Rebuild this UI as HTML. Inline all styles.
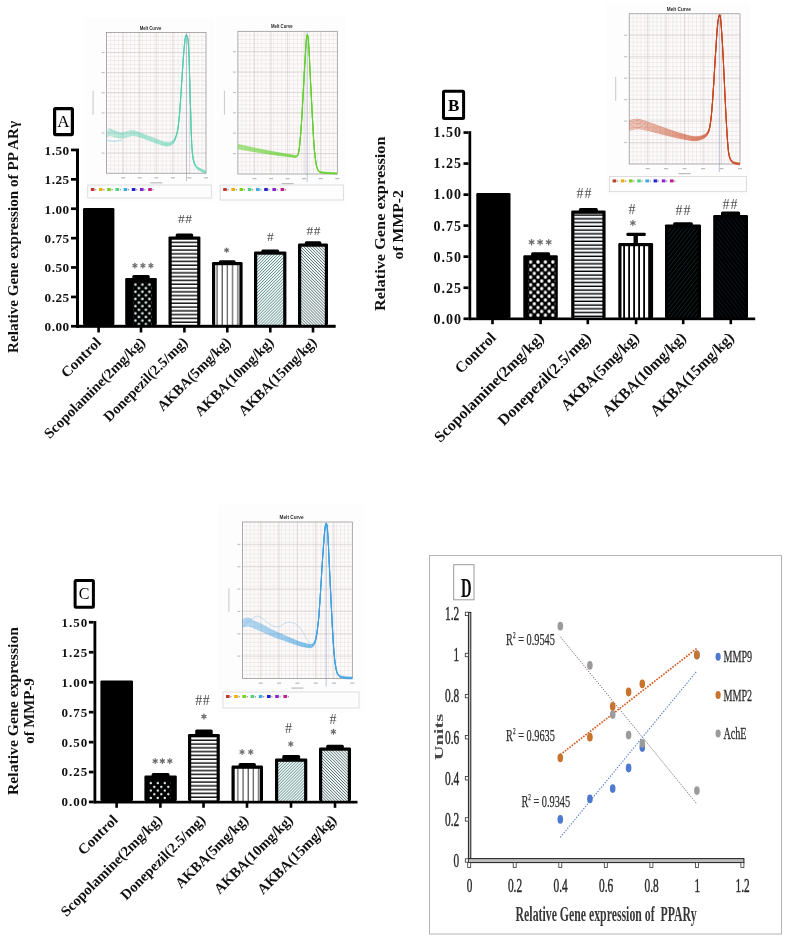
<!DOCTYPE html>
<html><head><meta charset="utf-8"><title>Figure</title>
<style>html,body{margin:0;padding:0;background:#fff;} svg{display:block;will-change:transform;}</style></head>
<body>
<svg width="789" height="939" viewBox="0 0 789 939">
<defs>
<pattern id="dotsA" patternUnits="userSpaceOnUse" width="7" height="7.2" x="133.6" y="282.8">
 <rect width="7" height="7.2" fill="#000"/>
 <circle cx="1.8" cy="1.8" r="1.3" fill="#e4f7f5"/>
 <circle cx="5.3" cy="5.4" r="1.3" fill="#e4f7f5"/>
</pattern>
<pattern id="dotsB" patternUnits="userSpaceOnUse" width="7.4" height="7.6" x="528.75" y="260.1">
 <rect width="7.4" height="7.6" fill="#000"/>
 <rect x="0.35" y="0.3" width="3" height="3.2" rx="1.2" fill="#fff"/>
 <rect x="4.05" y="4.1" width="3" height="3.2" rx="1.2" fill="#fff"/>
</pattern>
<pattern id="dotsC" patternUnits="userSpaceOnUse" width="7" height="7.4" x="149" y="781.3">
 <rect width="7" height="7.4" fill="#000"/>
 <circle cx="1.8" cy="1.9" r="1.2" fill="#e4f7f5"/>
 <circle cx="5.3" cy="5.6" r="1.2" fill="#e4f7f5"/>
</pattern>
<pattern id="hstripe" patternUnits="userSpaceOnUse" width="10" height="3.8">
 <rect width="10" height="3.8" fill="#fff"/>
 <rect y="2.3" width="10" height="1.5" fill="#1a1a1a"/>
</pattern>
<pattern id="hstripeB" patternUnits="userSpaceOnUse" width="10" height="3.75" y="212">
 <rect width="10" height="3.75" fill="#f4f6fa"/>
 <rect y="2.4" width="10" height="1.35" fill="#000"/>
</pattern>
<pattern id="vstripe" patternUnits="userSpaceOnUse" width="5.2" height="10" x="212.5">
 <rect width="5.2" height="10" fill="#fff"/>
 <rect x="4" width="1.0" height="10" fill="#333"/>
</pattern>
<pattern id="vstripeB" patternUnits="userSpaceOnUse" width="5" height="10" x="620">
 <rect width="5" height="10" fill="#fff"/>
 <rect x="3.2" width="1.8" height="10" fill="#000"/>
</pattern>
<pattern id="hatchF" patternUnits="userSpaceOnUse" width="2.1" height="4" patternTransform="rotate(45)">
 <rect width="2.1" height="4" fill="#f6fafa"/>
 <rect width="0.75" height="4" fill="#5e8e8c"/>
</pattern>
<pattern id="hatchB" patternUnits="userSpaceOnUse" width="2.1" height="4" patternTransform="rotate(-45)">
 <rect width="2.1" height="4" fill="#f8f9f9"/>
 <rect width="0.75" height="4" fill="#5a7678"/>
</pattern>
<pattern id="hatchBlk" patternUnits="userSpaceOnUse" width="3.2" height="6" patternTransform="rotate(-38)">
 <rect width="3.2" height="6" fill="#000"/>
 <rect width="0.5" height="6" fill="#0e2236"/>
</pattern>
<pattern id="hatchBlkF" patternUnits="userSpaceOnUse" width="3.2" height="6" patternTransform="rotate(38)">
 <rect width="3.2" height="6" fill="#000"/>
 <rect width="0.5" height="6" fill="#123a40"/>
</pattern>
</defs>
<rect width="789" height="939" fill="#fff"/>
<rect x="84" y="18" width="130" height="184" fill="#fdfdfd"/>
<rect x="216" y="16" width="130" height="188" fill="#fdfdfd"/>
<rect x="106.6" y="32.4" width="99.4" height="140.79999999999998" fill="#fdfbfb"/>
<line x1="110.58" y1="32.4" x2="110.58" y2="173.2" stroke="#e6dfdf" stroke-width="0.5"/>
<line x1="114.55" y1="32.4" x2="114.55" y2="173.2" stroke="#e6dfdf" stroke-width="0.5"/>
<line x1="118.53" y1="32.4" x2="118.53" y2="173.2" stroke="#e6dfdf" stroke-width="0.5"/>
<line x1="122.50" y1="32.4" x2="122.50" y2="173.2" stroke="#e6dfdf" stroke-width="0.5"/>
<line x1="126.48" y1="32.4" x2="126.48" y2="173.2" stroke="#e6dfdf" stroke-width="0.5"/>
<line x1="130.46" y1="32.4" x2="130.46" y2="173.2" stroke="#e6dfdf" stroke-width="0.5"/>
<line x1="134.43" y1="32.4" x2="134.43" y2="173.2" stroke="#e6dfdf" stroke-width="0.5"/>
<line x1="138.41" y1="32.4" x2="138.41" y2="173.2" stroke="#e6dfdf" stroke-width="0.5"/>
<line x1="142.38" y1="32.4" x2="142.38" y2="173.2" stroke="#e6dfdf" stroke-width="0.5"/>
<line x1="146.36" y1="32.4" x2="146.36" y2="173.2" stroke="#e6dfdf" stroke-width="0.5"/>
<line x1="150.34" y1="32.4" x2="150.34" y2="173.2" stroke="#e6dfdf" stroke-width="0.5"/>
<line x1="154.31" y1="32.4" x2="154.31" y2="173.2" stroke="#e6dfdf" stroke-width="0.5"/>
<line x1="158.29" y1="32.4" x2="158.29" y2="173.2" stroke="#e6dfdf" stroke-width="0.5"/>
<line x1="162.26" y1="32.4" x2="162.26" y2="173.2" stroke="#e6dfdf" stroke-width="0.5"/>
<line x1="166.24" y1="32.4" x2="166.24" y2="173.2" stroke="#e6dfdf" stroke-width="0.5"/>
<line x1="170.22" y1="32.4" x2="170.22" y2="173.2" stroke="#e6dfdf" stroke-width="0.5"/>
<line x1="174.19" y1="32.4" x2="174.19" y2="173.2" stroke="#e6dfdf" stroke-width="0.5"/>
<line x1="178.17" y1="32.4" x2="178.17" y2="173.2" stroke="#e6dfdf" stroke-width="0.5"/>
<line x1="182.14" y1="32.4" x2="182.14" y2="173.2" stroke="#e6dfdf" stroke-width="0.5"/>
<line x1="186.12" y1="32.4" x2="186.12" y2="173.2" stroke="#e6dfdf" stroke-width="0.5"/>
<line x1="190.10" y1="32.4" x2="190.10" y2="173.2" stroke="#e6dfdf" stroke-width="0.5"/>
<line x1="194.07" y1="32.4" x2="194.07" y2="173.2" stroke="#e6dfdf" stroke-width="0.5"/>
<line x1="198.05" y1="32.4" x2="198.05" y2="173.2" stroke="#e6dfdf" stroke-width="0.5"/>
<line x1="202.02" y1="32.4" x2="202.02" y2="173.2" stroke="#e6dfdf" stroke-width="0.5"/>
<line x1="106.6" y1="36.42" x2="206" y2="36.42" stroke="#e6dfdf" stroke-width="0.5"/>
<line x1="106.6" y1="40.45" x2="206" y2="40.45" stroke="#e6dfdf" stroke-width="0.5"/>
<line x1="106.6" y1="44.47" x2="206" y2="44.47" stroke="#e6dfdf" stroke-width="0.5"/>
<line x1="106.6" y1="48.49" x2="206" y2="48.49" stroke="#e6dfdf" stroke-width="0.5"/>
<line x1="106.6" y1="52.51" x2="206" y2="52.51" stroke="#e6dfdf" stroke-width="0.5"/>
<line x1="106.6" y1="56.54" x2="206" y2="56.54" stroke="#e6dfdf" stroke-width="0.5"/>
<line x1="106.6" y1="60.56" x2="206" y2="60.56" stroke="#e6dfdf" stroke-width="0.5"/>
<line x1="106.6" y1="64.58" x2="206" y2="64.58" stroke="#e6dfdf" stroke-width="0.5"/>
<line x1="106.6" y1="68.61" x2="206" y2="68.61" stroke="#e6dfdf" stroke-width="0.5"/>
<line x1="106.6" y1="72.63" x2="206" y2="72.63" stroke="#e6dfdf" stroke-width="0.5"/>
<line x1="106.6" y1="76.65" x2="206" y2="76.65" stroke="#e6dfdf" stroke-width="0.5"/>
<line x1="106.6" y1="80.67" x2="206" y2="80.67" stroke="#e6dfdf" stroke-width="0.5"/>
<line x1="106.6" y1="84.70" x2="206" y2="84.70" stroke="#e6dfdf" stroke-width="0.5"/>
<line x1="106.6" y1="88.72" x2="206" y2="88.72" stroke="#e6dfdf" stroke-width="0.5"/>
<line x1="106.6" y1="92.74" x2="206" y2="92.74" stroke="#e6dfdf" stroke-width="0.5"/>
<line x1="106.6" y1="96.77" x2="206" y2="96.77" stroke="#e6dfdf" stroke-width="0.5"/>
<line x1="106.6" y1="100.79" x2="206" y2="100.79" stroke="#e6dfdf" stroke-width="0.5"/>
<line x1="106.6" y1="104.81" x2="206" y2="104.81" stroke="#e6dfdf" stroke-width="0.5"/>
<line x1="106.6" y1="108.83" x2="206" y2="108.83" stroke="#e6dfdf" stroke-width="0.5"/>
<line x1="106.6" y1="112.86" x2="206" y2="112.86" stroke="#e6dfdf" stroke-width="0.5"/>
<line x1="106.6" y1="116.88" x2="206" y2="116.88" stroke="#e6dfdf" stroke-width="0.5"/>
<line x1="106.6" y1="120.90" x2="206" y2="120.90" stroke="#e6dfdf" stroke-width="0.5"/>
<line x1="106.6" y1="124.93" x2="206" y2="124.93" stroke="#e6dfdf" stroke-width="0.5"/>
<line x1="106.6" y1="128.95" x2="206" y2="128.95" stroke="#e6dfdf" stroke-width="0.5"/>
<line x1="106.6" y1="132.97" x2="206" y2="132.97" stroke="#e6dfdf" stroke-width="0.5"/>
<line x1="106.6" y1="136.99" x2="206" y2="136.99" stroke="#e6dfdf" stroke-width="0.5"/>
<line x1="106.6" y1="141.02" x2="206" y2="141.02" stroke="#e6dfdf" stroke-width="0.5"/>
<line x1="106.6" y1="145.04" x2="206" y2="145.04" stroke="#e6dfdf" stroke-width="0.5"/>
<line x1="106.6" y1="149.06" x2="206" y2="149.06" stroke="#e6dfdf" stroke-width="0.5"/>
<line x1="106.6" y1="153.09" x2="206" y2="153.09" stroke="#e6dfdf" stroke-width="0.5"/>
<line x1="106.6" y1="157.11" x2="206" y2="157.11" stroke="#e6dfdf" stroke-width="0.5"/>
<line x1="106.6" y1="161.13" x2="206" y2="161.13" stroke="#e6dfdf" stroke-width="0.5"/>
<line x1="106.6" y1="165.15" x2="206" y2="165.15" stroke="#e6dfdf" stroke-width="0.5"/>
<line x1="106.6" y1="169.18" x2="206" y2="169.18" stroke="#e6dfdf" stroke-width="0.5"/>
<line x1="123.17" y1="32.4" x2="123.17" y2="173.2" stroke="#d2c8c8" stroke-width="0.6"/>
<line x1="139.73" y1="32.4" x2="139.73" y2="173.2" stroke="#d2c8c8" stroke-width="0.6"/>
<line x1="156.30" y1="32.4" x2="156.30" y2="173.2" stroke="#d2c8c8" stroke-width="0.6"/>
<line x1="172.87" y1="32.4" x2="172.87" y2="173.2" stroke="#d2c8c8" stroke-width="0.6"/>
<line x1="189.43" y1="32.4" x2="189.43" y2="173.2" stroke="#d2c8c8" stroke-width="0.6"/>
<line x1="106.6" y1="52.51" x2="206" y2="52.51" stroke="#d2c8c8" stroke-width="0.6"/>
<line x1="106.6" y1="72.63" x2="206" y2="72.63" stroke="#d2c8c8" stroke-width="0.6"/>
<line x1="106.6" y1="92.74" x2="206" y2="92.74" stroke="#d2c8c8" stroke-width="0.6"/>
<line x1="106.6" y1="112.86" x2="206" y2="112.86" stroke="#d2c8c8" stroke-width="0.6"/>
<line x1="106.6" y1="132.97" x2="206" y2="132.97" stroke="#d2c8c8" stroke-width="0.6"/>
<line x1="106.6" y1="153.09" x2="206" y2="153.09" stroke="#d2c8c8" stroke-width="0.6"/>
<line x1="186.5" y1="32.4" x2="186.5" y2="181.2" stroke="#8f9cc0" stroke-width="0.6"/>
<rect x="106.6" y="32.4" width="99.4" height="140.79999999999998" fill="none" stroke="#8a8a8a" stroke-width="0.7"/>
<rect x="121.2" y="177.2" width="4" height="1.2" fill="#bbb"/>
<rect x="137.7" y="177.2" width="4" height="1.2" fill="#bbb"/>
<rect x="154.3" y="177.2" width="4" height="1.2" fill="#bbb"/>
<rect x="170.9" y="177.2" width="4" height="1.2" fill="#bbb"/>
<rect x="187.4" y="177.2" width="4" height="1.2" fill="#bbb"/>
<rect x="204.0" y="177.2" width="4" height="1.2" fill="#bbb"/>
<rect x="101.6" y="51.9" width="3" height="1.2" fill="#c4c4c4"/>
<rect x="101.6" y="72.0" width="3" height="1.2" fill="#c4c4c4"/>
<rect x="101.6" y="92.1" width="3" height="1.2" fill="#c4c4c4"/>
<rect x="101.6" y="112.3" width="3" height="1.2" fill="#c4c4c4"/>
<rect x="101.6" y="132.4" width="3" height="1.2" fill="#c4c4c4"/>
<rect x="101.6" y="152.5" width="3" height="1.2" fill="#c4c4c4"/>
<rect x="150.3" y="182.2" width="12" height="1.2" fill="#bbb"/>
<rect x="92.6" y="90.8" width="1" height="24" fill="#c8c8c8"/>
<text x="150.5" y="29.7" font-family="Liberation Sans" font-weight="bold" font-size="5.8" text-anchor="middle" textLength="21.7" lengthAdjust="spacingAndGlyphs" fill="#2a2a2a">Melt Curve</text>
<path d="M106.6,131.5 L107.0,131.2 L107.4,130.9 L108.0,130.4 L108.6,130.0 L109.3,129.7 L110.0,129.5 L110.7,129.5 L111.5,129.7 L112.3,130.0 L113.1,130.3 L114.0,130.7 L115.0,131.0 L116.1,131.3 L117.2,131.7 L118.4,132.1 L119.7,132.4 L120.9,132.7 L122.0,132.8 L123.1,132.7 L124.1,132.5 L125.1,132.2 L126.1,131.9 L127.1,131.5 L128.0,131.3 L128.9,131.1 L129.7,130.9 L130.4,130.7 L131.2,130.6 L132.1,130.5 L133.0,130.6 L134.0,130.8 L135.1,131.1 L136.3,131.5 L137.5,132.0 L138.8,132.4 L140.0,132.9 L141.3,133.4 L142.6,133.8 L143.9,134.4 L145.3,134.9 L146.7,135.4 L148.0,135.9 L149.3,136.4 L150.7,136.9 L152.1,137.4 L153.4,137.9 L154.7,138.4 L156.0,138.9 L157.2,139.4 L158.5,139.9 L159.7,140.4 L160.9,140.9 L162.0,141.4 L163.0,141.7 L164.0,142.0 L164.9,142.1 L165.7,142.3 L166.5,142.4 L167.2,142.4 L168.0,142.4 L168.7,142.4 L169.4,142.3 L170.1,142.2 L170.8,142.1 L171.4,141.8 L172.0,141.5 L172.6,141.1 L173.1,140.7 L173.6,140.2 L174.0,139.6 L174.5,138.8 L175.0,137.8 L175.5,136.6 L176.0,135.2 L176.6,133.6 L177.1,131.8 L177.6,129.7 L178.0,127.4 L178.4,124.8 L178.7,121.9 L179.1,118.8 L179.4,115.4 L179.7,111.7 L180.0,107.7 L180.3,103.4 L180.6,98.7 L181.0,93.7 L181.3,88.5 L181.6,83.2 L182.0,77.8 L182.4,72.1 L182.8,65.9 L183.2,59.6 L183.7,53.5 L184.1,48.2 L184.5,43.9 L184.9,40.7 L185.2,38.3 L185.5,36.6 L185.9,35.5 L186.2,35.0 L186.5,34.9 L186.8,35.2 L187.2,35.9 L187.5,37.1 L187.9,39.1 L188.2,41.9 L188.5,45.9 L188.8,51.3 L189.0,58.0 L189.3,65.6 L189.5,73.7 L189.8,81.9 L190.0,89.8 L190.2,97.9 L190.5,106.6 L190.8,115.3 L191.0,123.7 L191.2,131.3 L191.5,137.7 L191.7,142.7 L191.9,146.8 L192.2,150.0 L192.4,152.7 L192.7,155.1 L193.0,157.4 L193.4,159.5 L193.9,161.2 L194.3,162.6 L194.9,163.7 L195.4,164.7 L196.0,165.6 L196.6,166.4 L197.2,166.9 L197.8,167.3 L198.5,167.6 L199.2,167.9 L200.0,168.3 L201.0,168.8 L202.1,169.4 L203.2,170.0 L204.4,170.5 L205.3,171.0 L206.0,171.3" fill="none" stroke="#44cca8" stroke-width="0.7" stroke-opacity="0.55" stroke-linejoin="round"/>
<path d="M106.6,132.5 L107.0,132.2 L107.4,131.9 L108.0,131.4 L108.6,131.0 L109.3,130.7 L110.0,130.5 L110.7,130.5 L111.5,130.7 L112.3,131.0 L113.1,131.4 L114.0,131.7 L115.0,132.0 L116.1,132.3 L117.2,132.7 L118.4,133.0 L119.7,133.4 L120.9,133.6 L122.0,133.7 L123.1,133.6 L124.1,133.4 L125.1,133.1 L126.1,132.8 L127.1,132.4 L128.0,132.2 L128.9,132.0 L129.7,131.8 L130.4,131.6 L131.2,131.4 L132.1,131.4 L133.0,131.4 L134.0,131.6 L135.1,131.9 L136.3,132.3 L137.5,132.7 L138.8,133.2 L140.0,133.6 L141.3,134.1 L142.6,134.5 L143.9,135.1 L145.3,135.6 L146.7,136.1 L148.0,136.6 L149.3,137.1 L150.7,137.6 L152.1,138.1 L153.4,138.6 L154.7,139.1 L156.0,139.6 L157.2,140.1 L158.5,140.6 L159.7,141.1 L160.9,141.6 L162.0,142.0 L163.0,142.3 L164.0,142.6 L164.9,142.7 L165.7,142.9 L166.5,143.0 L167.2,143.0 L168.0,143.0 L168.7,143.0 L169.4,142.9 L170.1,142.8 L170.8,142.6 L171.4,142.3 L172.0,142.0 L172.6,141.6 L173.1,141.2 L173.6,140.7 L174.0,140.1 L174.5,139.3 L175.0,138.2 L175.5,136.9 L176.0,135.5 L176.6,133.9 L177.1,132.1 L177.6,130.0 L178.0,127.6 L178.4,124.9 L178.7,122.1 L179.1,118.9 L179.4,115.5 L179.7,111.8 L180.0,107.8 L180.3,103.4 L180.6,98.7 L181.0,93.7 L181.3,88.5 L181.6,83.2 L182.0,77.9 L182.4,72.2 L182.8,66.0 L183.2,59.6 L183.7,53.6 L184.1,48.2 L184.5,43.9 L184.9,40.8 L185.2,38.4 L185.5,36.6 L185.9,35.5 L186.2,35.0 L186.5,35.0 L186.8,35.3 L187.2,35.9 L187.5,37.1 L187.9,39.1 L188.2,42.0 L188.5,45.9 L188.8,51.3 L189.0,58.0 L189.3,65.6 L189.5,73.7 L189.8,82.0 L190.0,89.9 L190.2,98.0 L190.5,106.6 L190.8,115.4 L191.0,123.8 L191.2,131.4 L191.5,137.8 L191.7,142.9 L191.9,146.9 L192.2,150.2 L192.4,152.9 L192.7,155.3 L193.0,157.6 L193.4,159.7 L193.9,161.4 L194.3,162.8 L194.9,164.0 L195.4,165.0 L196.0,165.9 L196.6,166.7 L197.2,167.2 L197.8,167.6 L198.5,168.0 L199.2,168.3 L200.0,168.7 L201.0,169.2 L202.1,169.8 L203.2,170.4 L204.4,170.9 L205.3,171.4 L206.0,171.7" fill="none" stroke="#44cca8" stroke-width="0.7" stroke-opacity="0.55" stroke-linejoin="round"/>
<path d="M106.6,133.5 L107.0,133.2 L107.4,132.9 L108.0,132.4 L108.6,132.0 L109.3,131.7 L110.0,131.5 L110.7,131.5 L111.5,131.7 L112.3,132.0 L113.1,132.4 L114.0,132.7 L115.0,133.0 L116.1,133.3 L117.2,133.6 L118.4,134.0 L119.7,134.3 L120.9,134.5 L122.0,134.6 L123.1,134.5 L124.1,134.3 L125.1,134.0 L126.1,133.7 L127.1,133.4 L128.0,133.1 L128.9,132.9 L129.7,132.6 L130.4,132.4 L131.2,132.3 L132.1,132.2 L133.0,132.2 L134.0,132.4 L135.1,132.6 L136.3,133.0 L137.5,133.4 L138.8,133.9 L140.0,134.3 L141.3,134.7 L142.6,135.2 L143.9,135.7 L145.3,136.3 L146.7,136.8 L148.0,137.3 L149.3,137.8 L150.7,138.3 L152.1,138.8 L153.4,139.3 L154.7,139.8 L156.0,140.3 L157.2,140.8 L158.5,141.3 L159.7,141.7 L160.9,142.2 L162.0,142.6 L163.0,142.9 L164.0,143.1 L164.9,143.3 L165.7,143.5 L166.5,143.6 L167.2,143.6 L168.0,143.6 L168.7,143.6 L169.4,143.5 L170.1,143.3 L170.8,143.1 L171.4,142.9 L172.0,142.5 L172.6,142.1 L173.1,141.7 L173.6,141.2 L174.0,140.5 L174.5,139.7 L175.0,138.6 L175.5,137.3 L176.0,135.8 L176.6,134.2 L177.1,132.3 L177.6,130.2 L178.0,127.8 L178.4,125.1 L178.7,122.2 L179.1,119.0 L179.4,115.6 L179.7,111.9 L180.0,107.9 L180.3,103.5 L180.6,98.8 L181.0,93.8 L181.3,88.6 L181.6,83.3 L182.0,78.0 L182.4,72.2 L182.8,66.0 L183.2,59.6 L183.7,53.6 L184.1,48.2 L184.5,44.0 L184.9,40.8 L185.2,38.4 L185.5,36.7 L185.9,35.6 L186.2,35.0 L186.5,35.0 L186.8,35.3 L187.2,35.9 L187.5,37.2 L187.9,39.1 L188.2,42.0 L188.5,46.0 L188.8,51.3 L189.0,58.0 L189.3,65.7 L189.5,73.8 L189.8,82.0 L190.0,90.0 L190.2,98.0 L190.5,106.7 L190.8,115.4 L191.0,123.8 L191.2,131.5 L191.5,137.9 L191.7,143.0 L191.9,147.0 L192.2,150.3 L192.4,153.1 L192.7,155.5 L193.0,157.8 L193.4,159.9 L193.9,161.7 L194.3,163.1 L194.9,164.2 L195.4,165.3 L196.0,166.2 L196.6,167.0 L197.2,167.6 L197.8,168.0 L198.5,168.3 L199.2,168.7 L200.0,169.1 L201.0,169.6 L202.1,170.2 L203.2,170.8 L204.4,171.3 L205.3,171.8 L206.0,172.1" fill="none" stroke="#44cca8" stroke-width="0.7" stroke-opacity="0.55" stroke-linejoin="round"/>
<path d="M106.6,134.5 L107.0,134.2 L107.4,133.9 L108.0,133.4 L108.6,133.0 L109.3,132.7 L110.0,132.5 L110.7,132.5 L111.5,132.7 L112.3,133.0 L113.1,133.4 L114.0,133.7 L115.0,134.0 L116.1,134.3 L117.2,134.6 L118.4,134.9 L119.7,135.2 L120.9,135.4 L122.0,135.5 L123.1,135.4 L124.1,135.2 L125.1,134.9 L126.1,134.6 L127.1,134.3 L128.0,134.0 L128.9,133.8 L129.7,133.5 L130.4,133.3 L131.2,133.1 L132.1,133.0 L133.0,133.0 L134.0,133.1 L135.1,133.4 L136.3,133.8 L137.5,134.1 L138.8,134.6 L140.0,135.0 L141.3,135.4 L142.6,135.9 L143.9,136.4 L145.3,137.0 L146.7,137.5 L148.0,138.0 L149.3,138.5 L150.7,139.0 L152.1,139.5 L153.4,140.0 L154.7,140.5 L156.0,141.0 L157.2,141.5 L158.5,141.9 L159.7,142.4 L160.9,142.8 L162.0,143.2 L163.0,143.5 L164.0,143.7 L164.9,143.9 L165.7,144.1 L166.5,144.2 L167.2,144.2 L168.0,144.2 L168.7,144.1 L169.4,144.0 L170.1,143.9 L170.8,143.7 L171.4,143.4 L172.0,143.0 L172.6,142.6 L173.1,142.1 L173.6,141.6 L174.0,141.0 L174.5,140.1 L175.0,139.0 L175.5,137.7 L176.0,136.2 L176.6,134.5 L177.1,132.6 L177.6,130.4 L178.0,128.0 L178.4,125.3 L178.7,122.4 L179.1,119.2 L179.4,115.7 L179.7,112.0 L180.0,108.0 L180.3,103.6 L180.6,98.9 L181.0,93.9 L181.3,88.7 L181.6,83.3 L182.0,78.0 L182.4,72.3 L182.8,66.0 L183.2,59.7 L183.7,53.6 L184.1,48.3 L184.5,44.0 L184.9,40.8 L185.2,38.4 L185.5,36.7 L185.9,35.6 L186.2,35.1 L186.5,35.0 L186.8,35.3 L187.2,36.0 L187.5,37.2 L187.9,39.1 L188.2,42.0 L188.5,46.0 L188.8,51.4 L189.0,58.1 L189.3,65.7 L189.5,73.8 L189.8,82.1 L190.0,90.0 L190.2,98.1 L190.5,106.7 L190.8,115.5 L191.0,123.9 L191.2,131.6 L191.5,138.0 L191.7,143.1 L191.9,147.2 L192.2,150.5 L192.4,153.2 L192.7,155.7 L193.0,158.0 L193.4,160.1 L193.9,161.9 L194.3,163.3 L194.9,164.5 L195.4,165.5 L196.0,166.5 L196.6,167.3 L197.2,167.9 L197.8,168.3 L198.5,168.7 L199.2,169.1 L200.0,169.5 L201.0,170.0 L202.1,170.6 L203.2,171.2 L204.4,171.7 L205.3,172.2 L206.0,172.5" fill="none" stroke="#44cca8" stroke-width="0.7" stroke-opacity="0.55" stroke-linejoin="round"/>
<path d="M106.6,135.5 L107.0,135.2 L107.4,134.9 L108.0,134.4 L108.6,134.0 L109.3,133.7 L110.0,133.5 L110.7,133.5 L111.5,133.7 L112.3,134.0 L113.1,134.4 L114.0,134.7 L115.0,135.0 L116.1,135.3 L117.2,135.6 L118.4,135.9 L119.7,136.2 L120.9,136.3 L122.0,136.4 L123.1,136.3 L124.1,136.1 L125.1,135.8 L126.1,135.5 L127.1,135.2 L128.0,134.9 L128.9,134.7 L129.7,134.4 L130.4,134.1 L131.2,133.9 L132.1,133.8 L133.0,133.8 L134.0,133.9 L135.1,134.2 L136.3,134.5 L137.5,134.9 L138.8,135.3 L140.0,135.7 L141.3,136.1 L142.6,136.6 L143.9,137.1 L145.3,137.7 L146.7,138.2 L148.0,138.7 L149.3,139.2 L150.7,139.7 L152.1,140.2 L153.4,140.7 L154.7,141.2 L156.0,141.7 L157.2,142.2 L158.5,142.6 L159.7,143.0 L160.9,143.4 L162.0,143.8 L163.0,144.1 L164.0,144.3 L164.9,144.5 L165.7,144.7 L166.5,144.8 L167.2,144.8 L168.0,144.8 L168.7,144.7 L169.4,144.6 L170.1,144.4 L170.8,144.2 L171.4,143.9 L172.0,143.5 L172.6,143.1 L173.1,142.6 L173.6,142.1 L174.0,141.4 L174.5,140.5 L175.0,139.4 L175.5,138.0 L176.0,136.5 L176.6,134.8 L177.1,132.9 L177.6,130.7 L178.0,128.2 L178.4,125.5 L178.7,122.5 L179.1,119.3 L179.4,115.9 L179.7,112.1 L180.0,108.1 L180.3,103.7 L180.6,99.0 L181.0,93.9 L181.3,88.7 L181.6,83.4 L182.0,78.0 L182.4,72.3 L182.8,66.1 L183.2,59.7 L183.7,53.7 L184.1,48.3 L184.5,44.0 L184.9,40.8 L185.2,38.4 L185.5,36.7 L185.9,35.6 L186.2,35.1 L186.5,35.0 L186.8,35.3 L187.2,36.0 L187.5,37.2 L187.9,39.2 L188.2,42.1 L188.5,46.0 L188.8,51.4 L189.0,58.1 L189.3,65.7 L189.5,73.9 L189.8,82.1 L190.0,90.0 L190.2,98.1 L190.5,106.8 L190.8,115.6 L191.0,124.0 L191.2,131.7 L191.5,138.1 L191.7,143.2 L191.9,147.3 L192.2,150.6 L192.4,153.4 L192.7,155.8 L193.0,158.2 L193.4,160.4 L193.9,162.1 L194.3,163.6 L194.9,164.8 L195.4,165.8 L196.0,166.8 L196.6,167.6 L197.2,168.2 L197.8,168.7 L198.5,169.1 L199.2,169.5 L200.0,169.9 L201.0,170.4 L202.1,171.0 L203.2,171.6 L204.4,172.1 L205.3,172.6 L206.0,172.9" fill="none" stroke="#44cca8" stroke-width="0.7" stroke-opacity="0.55" stroke-linejoin="round"/>
<path d="M106.6,136.5 L107.0,136.2 L107.4,135.9 L108.0,135.4 L108.6,135.0 L109.3,134.7 L110.0,134.5 L110.7,134.5 L111.5,134.7 L112.3,135.0 L113.1,135.4 L114.0,135.7 L115.0,136.0 L116.1,136.3 L117.2,136.6 L118.4,136.8 L119.7,137.1 L120.9,137.2 L122.0,137.3 L123.1,137.2 L124.1,137.0 L125.1,136.7 L126.1,136.4 L127.1,136.1 L128.0,135.8 L128.9,135.5 L129.7,135.3 L130.4,135.0 L131.2,134.8 L132.1,134.6 L133.0,134.6 L134.0,134.7 L135.1,134.9 L136.3,135.2 L137.5,135.6 L138.8,136.0 L140.0,136.4 L141.3,136.8 L142.6,137.3 L143.9,137.8 L145.3,138.4 L146.7,138.9 L148.0,139.4 L149.3,139.9 L150.7,140.4 L152.1,140.9 L153.4,141.5 L154.7,141.9 L156.0,142.4 L157.2,142.8 L158.5,143.3 L159.7,143.7 L160.9,144.1 L162.0,144.4 L163.0,144.7 L164.0,144.9 L164.9,145.1 L165.7,145.3 L166.5,145.4 L167.2,145.4 L168.0,145.4 L168.7,145.3 L169.4,145.2 L170.1,145.0 L170.8,144.8 L171.4,144.4 L172.0,144.0 L172.6,143.5 L173.1,143.1 L173.6,142.5 L174.0,141.8 L174.5,140.9 L175.0,139.8 L175.5,138.4 L176.0,136.9 L176.6,135.1 L177.1,133.1 L177.6,130.9 L178.0,128.4 L178.4,125.7 L178.7,122.7 L179.1,119.5 L179.4,116.0 L179.7,112.2 L180.0,108.2 L180.3,103.8 L180.6,99.0 L181.0,94.0 L181.3,88.8 L181.6,83.5 L182.0,78.1 L182.4,72.4 L182.8,66.1 L183.2,59.8 L183.7,53.7 L184.1,48.3 L184.5,44.1 L184.9,40.9 L185.2,38.5 L185.5,36.7 L185.9,35.6 L186.2,35.1 L186.5,35.0 L186.8,35.3 L187.2,36.0 L187.5,37.2 L187.9,39.2 L188.2,42.1 L188.5,46.1 L188.8,51.4 L189.0,58.1 L189.3,65.8 L189.5,73.9 L189.8,82.1 L190.0,90.1 L190.2,98.2 L190.5,106.9 L190.8,115.6 L191.0,124.1 L191.2,131.8 L191.5,138.2 L191.7,143.3 L191.9,147.4 L192.2,150.8 L192.4,153.6 L192.7,156.0 L193.0,158.4 L193.4,160.6 L193.9,162.4 L194.3,163.8 L194.9,165.0 L195.4,166.1 L196.0,167.1 L196.6,168.0 L197.2,168.6 L197.8,169.1 L198.5,169.5 L199.2,169.8 L200.0,170.3 L201.0,170.8 L202.1,171.4 L203.2,172.0 L204.4,172.5 L205.3,173.0 L206.0,173.3" fill="none" stroke="#44cca8" stroke-width="0.7" stroke-opacity="0.55" stroke-linejoin="round"/>
<path d="M106.6,137.5 L107.0,137.2 L107.4,136.9 L108.0,136.4 L108.6,136.0 L109.3,135.7 L110.0,135.5 L110.7,135.6 L111.5,135.8 L112.3,136.1 L113.1,136.4 L114.0,136.7 L115.0,137.0 L116.1,137.2 L117.2,137.5 L118.4,137.8 L119.7,138.0 L120.9,138.2 L122.0,138.2 L123.1,138.1 L124.1,137.9 L125.1,137.6 L126.1,137.3 L127.1,137.0 L128.0,136.7 L128.9,136.4 L129.7,136.1 L130.4,135.8 L131.2,135.6 L132.1,135.4 L133.0,135.4 L134.0,135.5 L135.1,135.7 L136.3,136.0 L137.5,136.3 L138.8,136.7 L140.0,137.1 L141.3,137.5 L142.6,138.0 L143.9,138.5 L145.3,139.1 L146.7,139.6 L148.0,140.1 L149.3,140.6 L150.7,141.1 L152.1,141.7 L153.4,142.2 L154.7,142.6 L156.0,143.1 L157.2,143.5 L158.5,143.9 L159.7,144.3 L160.9,144.7 L162.0,145.0 L163.0,145.3 L164.0,145.5 L164.9,145.7 L165.7,145.9 L166.5,146.0 L167.2,146.0 L168.0,146.0 L168.7,145.9 L169.4,145.8 L170.1,145.6 L170.8,145.3 L171.4,144.9 L172.0,144.5 L172.6,144.0 L173.1,143.5 L173.6,143.0 L174.0,142.3 L174.5,141.4 L175.0,140.2 L175.5,138.8 L176.0,137.2 L176.6,135.4 L177.1,133.4 L177.6,131.1 L178.0,128.6 L178.4,125.8 L178.7,122.8 L179.1,119.6 L179.4,116.1 L179.7,112.4 L180.0,108.3 L180.3,103.9 L180.6,99.1 L181.0,94.1 L181.3,88.9 L181.6,83.5 L182.0,78.2 L182.4,72.4 L182.8,66.2 L183.2,59.8 L183.7,53.7 L184.1,48.4 L184.5,44.1 L184.9,40.9 L185.2,38.5 L185.5,36.8 L185.9,35.7 L186.2,35.1 L186.5,35.1 L186.8,35.4 L187.2,36.0 L187.5,37.3 L187.9,39.2 L188.2,42.1 L188.5,46.1 L188.8,51.5 L189.0,58.2 L189.3,65.8 L189.5,73.9 L189.8,82.2 L190.0,90.2 L190.2,98.3 L190.5,106.9 L190.8,115.7 L191.0,124.2 L191.2,131.8 L191.5,138.3 L191.7,143.4 L191.9,147.6 L192.2,150.9 L192.4,153.7 L192.7,156.2 L193.0,158.6 L193.4,160.8 L193.9,162.6 L194.3,164.1 L194.9,165.3 L195.4,166.4 L196.0,167.4 L196.6,168.3 L197.2,168.9 L197.8,169.4 L198.5,169.8 L199.2,170.2 L200.0,170.7 L201.0,171.3 L202.1,171.8 L203.2,172.4 L204.4,172.9 L205.3,173.4 L206.0,173.7" fill="none" stroke="#44cca8" stroke-width="0.7" stroke-opacity="0.55" stroke-linejoin="round"/>
<path d="M107,140 C112,142 118,141 122,140" stroke="#7ac8e0" stroke-width="0.6" fill="none"/><path d="M108,128 C113,131 118,135 124,134" stroke="#7ad0d0" stroke-width="0.5" fill="none"/>
<rect x="87.8" y="185" width="123.50000000000001" height="13" fill="#fdfdfd" stroke="#cfcfcf" stroke-width="0.7"/>
<rect x="90.8" y="188" width="3.6" height="3" fill="#c0392b"/>
<rect x="95.1" y="189" width="1.2" height="1.4" fill="#999"/>
<rect x="99.0" y="188" width="3.6" height="3" fill="#e8b010"/>
<rect x="103.3" y="189" width="1.2" height="1.4" fill="#999"/>
<rect x="107.2" y="188" width="3.6" height="3" fill="#7bd020"/>
<rect x="111.5" y="189" width="1.2" height="1.4" fill="#999"/>
<rect x="115.4" y="188" width="3.6" height="3" fill="#50d080"/>
<rect x="119.7" y="189" width="1.2" height="1.4" fill="#999"/>
<rect x="123.6" y="188" width="3.6" height="3" fill="#40a8e0"/>
<rect x="127.9" y="189" width="1.2" height="1.4" fill="#999"/>
<rect x="131.8" y="188" width="3.6" height="3" fill="#2020d0"/>
<rect x="136.1" y="189" width="1.2" height="1.4" fill="#999"/>
<rect x="140.0" y="188" width="3.6" height="3" fill="#9020d0"/>
<rect x="144.3" y="189" width="1.2" height="1.4" fill="#999"/>
<rect x="148.2" y="188" width="3.6" height="3" fill="#c02090"/>
<rect x="152.5" y="189" width="1.2" height="1.4" fill="#999"/>
<rect x="237.9" y="31.3" width="99.4" height="142.7" fill="#fdfbfb"/>
<line x1="241.88" y1="31.3" x2="241.88" y2="174" stroke="#e6dfdf" stroke-width="0.5"/>
<line x1="245.85" y1="31.3" x2="245.85" y2="174" stroke="#e6dfdf" stroke-width="0.5"/>
<line x1="249.83" y1="31.3" x2="249.83" y2="174" stroke="#e6dfdf" stroke-width="0.5"/>
<line x1="253.80" y1="31.3" x2="253.80" y2="174" stroke="#e6dfdf" stroke-width="0.5"/>
<line x1="257.78" y1="31.3" x2="257.78" y2="174" stroke="#e6dfdf" stroke-width="0.5"/>
<line x1="261.76" y1="31.3" x2="261.76" y2="174" stroke="#e6dfdf" stroke-width="0.5"/>
<line x1="265.73" y1="31.3" x2="265.73" y2="174" stroke="#e6dfdf" stroke-width="0.5"/>
<line x1="269.71" y1="31.3" x2="269.71" y2="174" stroke="#e6dfdf" stroke-width="0.5"/>
<line x1="273.68" y1="31.3" x2="273.68" y2="174" stroke="#e6dfdf" stroke-width="0.5"/>
<line x1="277.66" y1="31.3" x2="277.66" y2="174" stroke="#e6dfdf" stroke-width="0.5"/>
<line x1="281.64" y1="31.3" x2="281.64" y2="174" stroke="#e6dfdf" stroke-width="0.5"/>
<line x1="285.61" y1="31.3" x2="285.61" y2="174" stroke="#e6dfdf" stroke-width="0.5"/>
<line x1="289.59" y1="31.3" x2="289.59" y2="174" stroke="#e6dfdf" stroke-width="0.5"/>
<line x1="293.56" y1="31.3" x2="293.56" y2="174" stroke="#e6dfdf" stroke-width="0.5"/>
<line x1="297.54" y1="31.3" x2="297.54" y2="174" stroke="#e6dfdf" stroke-width="0.5"/>
<line x1="301.52" y1="31.3" x2="301.52" y2="174" stroke="#e6dfdf" stroke-width="0.5"/>
<line x1="305.49" y1="31.3" x2="305.49" y2="174" stroke="#e6dfdf" stroke-width="0.5"/>
<line x1="309.47" y1="31.3" x2="309.47" y2="174" stroke="#e6dfdf" stroke-width="0.5"/>
<line x1="313.44" y1="31.3" x2="313.44" y2="174" stroke="#e6dfdf" stroke-width="0.5"/>
<line x1="317.42" y1="31.3" x2="317.42" y2="174" stroke="#e6dfdf" stroke-width="0.5"/>
<line x1="321.40" y1="31.3" x2="321.40" y2="174" stroke="#e6dfdf" stroke-width="0.5"/>
<line x1="325.37" y1="31.3" x2="325.37" y2="174" stroke="#e6dfdf" stroke-width="0.5"/>
<line x1="329.35" y1="31.3" x2="329.35" y2="174" stroke="#e6dfdf" stroke-width="0.5"/>
<line x1="333.32" y1="31.3" x2="333.32" y2="174" stroke="#e6dfdf" stroke-width="0.5"/>
<line x1="237.9" y1="35.38" x2="337.3" y2="35.38" stroke="#e6dfdf" stroke-width="0.5"/>
<line x1="237.9" y1="39.45" x2="337.3" y2="39.45" stroke="#e6dfdf" stroke-width="0.5"/>
<line x1="237.9" y1="43.53" x2="337.3" y2="43.53" stroke="#e6dfdf" stroke-width="0.5"/>
<line x1="237.9" y1="47.61" x2="337.3" y2="47.61" stroke="#e6dfdf" stroke-width="0.5"/>
<line x1="237.9" y1="51.69" x2="337.3" y2="51.69" stroke="#e6dfdf" stroke-width="0.5"/>
<line x1="237.9" y1="55.76" x2="337.3" y2="55.76" stroke="#e6dfdf" stroke-width="0.5"/>
<line x1="237.9" y1="59.84" x2="337.3" y2="59.84" stroke="#e6dfdf" stroke-width="0.5"/>
<line x1="237.9" y1="63.92" x2="337.3" y2="63.92" stroke="#e6dfdf" stroke-width="0.5"/>
<line x1="237.9" y1="67.99" x2="337.3" y2="67.99" stroke="#e6dfdf" stroke-width="0.5"/>
<line x1="237.9" y1="72.07" x2="337.3" y2="72.07" stroke="#e6dfdf" stroke-width="0.5"/>
<line x1="237.9" y1="76.15" x2="337.3" y2="76.15" stroke="#e6dfdf" stroke-width="0.5"/>
<line x1="237.9" y1="80.23" x2="337.3" y2="80.23" stroke="#e6dfdf" stroke-width="0.5"/>
<line x1="237.9" y1="84.30" x2="337.3" y2="84.30" stroke="#e6dfdf" stroke-width="0.5"/>
<line x1="237.9" y1="88.38" x2="337.3" y2="88.38" stroke="#e6dfdf" stroke-width="0.5"/>
<line x1="237.9" y1="92.46" x2="337.3" y2="92.46" stroke="#e6dfdf" stroke-width="0.5"/>
<line x1="237.9" y1="96.53" x2="337.3" y2="96.53" stroke="#e6dfdf" stroke-width="0.5"/>
<line x1="237.9" y1="100.61" x2="337.3" y2="100.61" stroke="#e6dfdf" stroke-width="0.5"/>
<line x1="237.9" y1="104.69" x2="337.3" y2="104.69" stroke="#e6dfdf" stroke-width="0.5"/>
<line x1="237.9" y1="108.77" x2="337.3" y2="108.77" stroke="#e6dfdf" stroke-width="0.5"/>
<line x1="237.9" y1="112.84" x2="337.3" y2="112.84" stroke="#e6dfdf" stroke-width="0.5"/>
<line x1="237.9" y1="116.92" x2="337.3" y2="116.92" stroke="#e6dfdf" stroke-width="0.5"/>
<line x1="237.9" y1="121.00" x2="337.3" y2="121.00" stroke="#e6dfdf" stroke-width="0.5"/>
<line x1="237.9" y1="125.07" x2="337.3" y2="125.07" stroke="#e6dfdf" stroke-width="0.5"/>
<line x1="237.9" y1="129.15" x2="337.3" y2="129.15" stroke="#e6dfdf" stroke-width="0.5"/>
<line x1="237.9" y1="133.23" x2="337.3" y2="133.23" stroke="#e6dfdf" stroke-width="0.5"/>
<line x1="237.9" y1="137.31" x2="337.3" y2="137.31" stroke="#e6dfdf" stroke-width="0.5"/>
<line x1="237.9" y1="141.38" x2="337.3" y2="141.38" stroke="#e6dfdf" stroke-width="0.5"/>
<line x1="237.9" y1="145.46" x2="337.3" y2="145.46" stroke="#e6dfdf" stroke-width="0.5"/>
<line x1="237.9" y1="149.54" x2="337.3" y2="149.54" stroke="#e6dfdf" stroke-width="0.5"/>
<line x1="237.9" y1="153.61" x2="337.3" y2="153.61" stroke="#e6dfdf" stroke-width="0.5"/>
<line x1="237.9" y1="157.69" x2="337.3" y2="157.69" stroke="#e6dfdf" stroke-width="0.5"/>
<line x1="237.9" y1="161.77" x2="337.3" y2="161.77" stroke="#e6dfdf" stroke-width="0.5"/>
<line x1="237.9" y1="165.85" x2="337.3" y2="165.85" stroke="#e6dfdf" stroke-width="0.5"/>
<line x1="237.9" y1="169.92" x2="337.3" y2="169.92" stroke="#e6dfdf" stroke-width="0.5"/>
<line x1="254.47" y1="31.3" x2="254.47" y2="174" stroke="#d2c8c8" stroke-width="0.6"/>
<line x1="271.03" y1="31.3" x2="271.03" y2="174" stroke="#d2c8c8" stroke-width="0.6"/>
<line x1="287.60" y1="31.3" x2="287.60" y2="174" stroke="#d2c8c8" stroke-width="0.6"/>
<line x1="304.17" y1="31.3" x2="304.17" y2="174" stroke="#d2c8c8" stroke-width="0.6"/>
<line x1="320.73" y1="31.3" x2="320.73" y2="174" stroke="#d2c8c8" stroke-width="0.6"/>
<line x1="237.9" y1="51.69" x2="337.3" y2="51.69" stroke="#d2c8c8" stroke-width="0.6"/>
<line x1="237.9" y1="72.07" x2="337.3" y2="72.07" stroke="#d2c8c8" stroke-width="0.6"/>
<line x1="237.9" y1="92.46" x2="337.3" y2="92.46" stroke="#d2c8c8" stroke-width="0.6"/>
<line x1="237.9" y1="112.84" x2="337.3" y2="112.84" stroke="#d2c8c8" stroke-width="0.6"/>
<line x1="237.9" y1="133.23" x2="337.3" y2="133.23" stroke="#d2c8c8" stroke-width="0.6"/>
<line x1="237.9" y1="153.61" x2="337.3" y2="153.61" stroke="#d2c8c8" stroke-width="0.6"/>
<line x1="307.2" y1="31.3" x2="307.2" y2="182" stroke="#8f9cc0" stroke-width="0.6"/>
<rect x="237.9" y="31.3" width="99.4" height="142.7" fill="none" stroke="#8a8a8a" stroke-width="0.7"/>
<rect x="252.5" y="178" width="4" height="1.2" fill="#bbb"/>
<rect x="269.0" y="178" width="4" height="1.2" fill="#bbb"/>
<rect x="285.6" y="178" width="4" height="1.2" fill="#bbb"/>
<rect x="302.2" y="178" width="4" height="1.2" fill="#bbb"/>
<rect x="318.7" y="178" width="4" height="1.2" fill="#bbb"/>
<rect x="335.3" y="178" width="4" height="1.2" fill="#bbb"/>
<rect x="232.9" y="51.1" width="3" height="1.2" fill="#c4c4c4"/>
<rect x="232.9" y="71.5" width="3" height="1.2" fill="#c4c4c4"/>
<rect x="232.9" y="91.9" width="3" height="1.2" fill="#c4c4c4"/>
<rect x="232.9" y="112.2" width="3" height="1.2" fill="#c4c4c4"/>
<rect x="232.9" y="132.6" width="3" height="1.2" fill="#c4c4c4"/>
<rect x="232.9" y="153.0" width="3" height="1.2" fill="#c4c4c4"/>
<rect x="281.6" y="183" width="12" height="1.2" fill="#bbb"/>
<rect x="223.9" y="90.7" width="1" height="24" fill="#c8c8c8"/>
<text x="281.8" y="28" font-family="Liberation Sans" font-weight="bold" font-size="5.8" text-anchor="middle" textLength="21.7" lengthAdjust="spacingAndGlyphs" fill="#2a2a2a">Melt Curve</text>
<path d="M238.0,144.4 L238.7,144.6 L239.7,144.8 L240.9,145.0 L242.2,145.3 L243.6,145.6 L245.0,145.9 L246.5,146.2 L248.1,146.6 L249.8,147.0 L251.6,147.4 L253.3,147.7 L255.0,148.1 L256.7,148.5 L258.3,148.8 L260.0,149.1 L261.7,149.5 L263.3,149.8 L265.0,150.1 L266.7,150.4 L268.3,150.8 L270.0,151.1 L271.7,151.4 L273.3,151.7 L275.0,152.0 L276.7,152.3 L278.4,152.6 L280.2,152.9 L281.9,153.2 L283.5,153.5 L285.0,153.7 L286.4,154.0 L287.7,154.2 L288.9,154.4 L290.0,154.6 L291.0,154.8 L292.0,154.9 L292.9,155.1 L293.7,155.4 L294.4,155.6 L295.1,155.7 L295.7,155.7 L296.3,155.6 L296.8,155.3 L297.2,155.0 L297.6,154.6 L298.0,154.0 L298.3,153.1 L298.6,151.9 L298.9,150.2 L299.2,148.2 L299.5,146.0 L299.8,143.4 L300.0,140.7 L300.3,137.7 L300.6,134.5 L300.9,131.2 L301.1,127.7 L301.4,123.8 L301.7,119.6 L302.0,114.8 L302.3,109.4 L302.6,103.4 L303.0,97.0 L303.3,90.4 L303.7,84.0 L304.0,77.9 L304.3,71.9 L304.7,65.8 L305.1,59.7 L305.4,54.1 L305.7,49.1 L306.0,44.9 L306.2,41.7 L306.4,39.2 L306.6,37.3 L306.7,36.0 L306.9,35.2 L307.1,34.8 L307.3,34.7 L307.5,35.1 L307.8,36.0 L308.0,37.4 L308.3,39.3 L308.5,41.9 L308.7,45.3 L309.0,49.3 L309.2,53.9 L309.5,58.9 L309.7,64.3 L310.0,69.9 L310.3,75.9 L310.6,82.5 L311.0,89.4 L311.3,96.4 L311.7,103.3 L312.0,109.8 L312.3,116.1 L312.7,122.5 L313.0,128.7 L313.3,134.6 L313.7,140.0 L314.0,144.8 L314.3,148.9 L314.7,152.4 L315.0,155.4 L315.3,158.1 L315.7,160.5 L316.0,162.6 L316.3,164.4 L316.6,165.8 L316.9,166.9 L317.2,167.8 L317.6,168.6 L318.0,169.4 L318.4,170.1 L318.8,170.6 L319.2,171.0 L319.8,171.3 L320.7,171.6 L322.0,171.9 L324.0,172.1 L326.7,172.4 L329.8,172.5 L332.7,172.7 L335.2,172.8 L337.0,172.9" fill="none" stroke="#5ed02a" stroke-width="0.75" stroke-opacity="0.65" stroke-linejoin="round"/>
<path d="M238.0,145.1 L238.7,145.3 L239.7,145.5 L240.9,145.7 L242.2,146.0 L243.6,146.3 L245.0,146.6 L246.5,146.9 L248.1,147.3 L249.8,147.6 L251.6,148.0 L253.3,148.4 L255.0,148.7 L256.7,149.1 L258.3,149.4 L260.0,149.7 L261.7,150.0 L263.3,150.4 L265.0,150.7 L266.7,151.0 L268.3,151.3 L270.0,151.6 L271.7,151.9 L273.3,152.2 L275.0,152.5 L276.7,152.8 L278.4,153.1 L280.2,153.4 L281.9,153.7 L283.5,153.9 L285.0,154.2 L286.4,154.4 L287.7,154.6 L288.9,154.8 L290.0,155.0 L291.0,155.2 L292.0,155.3 L292.9,155.5 L293.7,155.7 L294.4,155.9 L295.1,156.0 L295.7,156.0 L296.3,155.8 L296.8,155.6 L297.2,155.3 L297.6,154.9 L298.0,154.3 L298.3,153.4 L298.6,152.1 L298.9,150.4 L299.2,148.4 L299.5,146.1 L299.8,143.6 L300.0,140.8 L300.3,137.8 L300.6,134.6 L300.9,131.3 L301.1,127.8 L301.4,123.9 L301.7,119.6 L302.0,114.9 L302.3,109.5 L302.6,103.5 L303.0,97.0 L303.3,90.5 L303.7,84.0 L304.0,77.9 L304.3,71.9 L304.7,65.8 L305.1,59.8 L305.4,54.1 L305.7,49.1 L306.0,45.0 L306.2,41.7 L306.4,39.2 L306.6,37.4 L306.7,36.0 L306.9,35.2 L307.1,34.8 L307.3,34.7 L307.5,35.1 L307.8,36.0 L308.0,37.4 L308.3,39.4 L308.5,42.0 L308.7,45.3 L309.0,49.3 L309.2,53.9 L309.5,58.9 L309.7,64.3 L310.0,69.9 L310.3,76.0 L310.6,82.5 L311.0,89.5 L311.3,96.5 L311.7,103.4 L312.0,109.9 L312.3,116.2 L312.7,122.5 L313.0,128.8 L313.3,134.7 L313.7,140.1 L314.0,144.9 L314.3,149.0 L314.7,152.5 L315.0,155.5 L315.3,158.2 L315.7,160.6 L316.0,162.7 L316.3,164.6 L316.6,166.0 L316.9,167.1 L317.2,168.0 L317.6,168.8 L318.0,169.6 L318.4,170.3 L318.8,170.8 L319.2,171.2 L319.8,171.5 L320.7,171.8 L322.0,172.1 L324.0,172.3 L326.7,172.6 L329.8,172.7 L332.7,172.9 L335.2,173.0 L337.0,173.1" fill="none" stroke="#5ed02a" stroke-width="0.75" stroke-opacity="0.65" stroke-linejoin="round"/>
<path d="M238.0,145.8 L238.7,146.0 L239.7,146.2 L240.9,146.4 L242.2,146.7 L243.6,147.0 L245.0,147.3 L246.5,147.6 L248.1,148.0 L249.8,148.3 L251.6,148.7 L253.3,149.0 L255.0,149.4 L256.7,149.7 L258.3,150.0 L260.0,150.3 L261.7,150.6 L263.3,150.9 L265.0,151.2 L266.7,151.5 L268.3,151.8 L270.0,152.1 L271.7,152.4 L273.3,152.7 L275.0,153.0 L276.7,153.3 L278.4,153.6 L280.2,153.8 L281.9,154.1 L283.5,154.3 L285.0,154.6 L286.4,154.8 L287.7,155.0 L288.9,155.2 L290.0,155.4 L291.0,155.5 L292.0,155.7 L292.9,155.8 L293.7,156.0 L294.4,156.2 L295.1,156.3 L295.7,156.3 L296.3,156.1 L296.8,155.9 L297.2,155.6 L297.6,155.1 L298.0,154.5 L298.3,153.6 L298.6,152.3 L298.9,150.6 L299.2,148.6 L299.5,146.3 L299.8,143.7 L300.0,140.9 L300.3,137.9 L300.6,134.7 L300.9,131.4 L301.1,127.8 L301.4,124.0 L301.7,119.7 L302.0,114.9 L302.3,109.5 L302.6,103.5 L303.0,97.1 L303.3,90.5 L303.7,84.1 L304.0,78.0 L304.3,72.0 L304.7,65.8 L305.1,59.8 L305.4,54.1 L305.7,49.1 L306.0,45.0 L306.2,41.8 L306.4,39.2 L306.6,37.4 L306.7,36.1 L306.9,35.2 L307.1,34.8 L307.3,34.7 L307.5,35.1 L307.8,36.0 L308.0,37.4 L308.3,39.4 L308.5,42.0 L308.7,45.3 L309.0,49.3 L309.2,53.9 L309.5,59.0 L309.7,64.4 L310.0,70.0 L310.3,76.0 L310.6,82.6 L311.0,89.5 L311.3,96.5 L311.7,103.4 L312.0,109.9 L312.3,116.3 L312.7,122.6 L313.0,128.8 L313.3,134.7 L313.7,140.1 L314.0,144.9 L314.3,149.0 L314.7,152.6 L315.0,155.6 L315.3,158.3 L315.7,160.7 L316.0,162.9 L316.3,164.7 L316.6,166.1 L316.9,167.3 L317.2,168.2 L317.6,169.0 L318.0,169.8 L318.4,170.5 L318.8,171.0 L319.2,171.4 L319.8,171.7 L320.7,172.0 L322.0,172.3 L324.0,172.6 L326.7,172.8 L329.8,172.9 L332.7,173.1 L335.2,173.2 L337.0,173.3" fill="none" stroke="#5ed02a" stroke-width="0.75" stroke-opacity="0.65" stroke-linejoin="round"/>
<path d="M238.0,146.5 L238.7,146.7 L239.7,146.9 L240.9,147.1 L242.2,147.4 L243.6,147.7 L245.0,148.0 L246.5,148.3 L248.1,148.6 L249.8,149.0 L251.6,149.3 L253.3,149.7 L255.0,150.0 L256.7,150.3 L258.3,150.6 L260.0,150.9 L261.7,151.2 L263.3,151.5 L265.0,151.8 L266.7,152.1 L268.3,152.4 L270.0,152.7 L271.7,153.0 L273.3,153.2 L275.0,153.5 L276.7,153.8 L278.4,154.0 L280.2,154.3 L281.9,154.5 L283.5,154.8 L285.0,155.0 L286.4,155.2 L287.7,155.4 L288.9,155.6 L290.0,155.7 L291.0,155.9 L292.0,156.0 L292.9,156.2 L293.7,156.3 L294.4,156.5 L295.1,156.6 L295.7,156.6 L296.3,156.4 L296.8,156.1 L297.2,155.8 L297.6,155.4 L298.0,154.7 L298.3,153.8 L298.6,152.5 L298.9,150.8 L299.2,148.8 L299.5,146.4 L299.8,143.9 L300.0,141.0 L300.3,138.0 L300.6,134.8 L300.9,131.5 L301.1,127.9 L301.4,124.0 L301.7,119.7 L302.0,115.0 L302.3,109.6 L302.6,103.6 L303.0,97.1 L303.3,90.6 L303.7,84.1 L304.0,78.0 L304.3,72.0 L304.7,65.9 L305.1,59.8 L305.4,54.2 L305.7,49.1 L306.0,45.0 L306.2,41.8 L306.4,39.3 L306.6,37.4 L306.7,36.1 L306.9,35.2 L307.1,34.8 L307.3,34.8 L307.5,35.1 L307.8,36.0 L308.0,37.4 L308.3,39.4 L308.5,42.0 L308.7,45.3 L309.0,49.3 L309.2,54.0 L309.5,59.0 L309.7,64.4 L310.0,70.0 L310.3,76.0 L310.6,82.6 L311.0,89.6 L311.3,96.6 L311.7,103.5 L312.0,110.0 L312.3,116.3 L312.7,122.7 L313.0,128.9 L313.3,134.8 L313.7,140.2 L314.0,145.0 L314.3,149.1 L314.7,152.7 L315.0,155.8 L315.3,158.4 L315.7,160.8 L316.0,163.0 L316.3,164.9 L316.6,166.3 L316.9,167.5 L317.2,168.4 L317.6,169.2 L318.0,170.0 L318.4,170.7 L318.8,171.2 L319.2,171.6 L319.8,171.9 L320.7,172.2 L322.0,172.5 L324.0,172.8 L326.7,173.0 L329.8,173.2 L332.7,173.3 L335.2,173.4 L337.0,173.5" fill="none" stroke="#5ed02a" stroke-width="0.75" stroke-opacity="0.65" stroke-linejoin="round"/>
<path d="M238.0,147.2 L238.7,147.4 L239.7,147.6 L240.9,147.8 L242.2,148.1 L243.6,148.4 L245.0,148.7 L246.5,149.0 L248.1,149.3 L249.8,149.7 L251.6,150.0 L253.3,150.3 L255.0,150.6 L256.7,150.9 L258.3,151.2 L260.0,151.5 L261.7,151.8 L263.3,152.1 L265.0,152.4 L266.7,152.6 L268.3,152.9 L270.0,153.2 L271.7,153.5 L273.3,153.7 L275.0,154.0 L276.7,154.2 L278.4,154.5 L280.2,154.7 L281.9,155.0 L283.5,155.2 L285.0,155.4 L286.4,155.6 L287.7,155.8 L288.9,156.0 L290.0,156.1 L291.0,156.2 L292.0,156.3 L292.9,156.5 L293.7,156.7 L294.4,156.8 L295.1,156.9 L295.7,156.9 L296.3,156.7 L296.8,156.4 L297.2,156.1 L297.6,155.6 L298.0,155.0 L298.3,154.0 L298.6,152.7 L298.9,151.0 L299.2,148.9 L299.5,146.6 L299.8,144.0 L300.0,141.2 L300.3,138.1 L300.6,134.9 L300.9,131.6 L301.1,128.0 L301.4,124.1 L301.7,119.8 L302.0,115.1 L302.3,109.6 L302.6,103.6 L303.0,97.2 L303.3,90.6 L303.7,84.1 L304.0,78.0 L304.3,72.0 L304.7,65.9 L305.1,59.9 L305.4,54.2 L305.7,49.2 L306.0,45.0 L306.2,41.8 L306.4,39.3 L306.6,37.4 L306.7,36.1 L306.9,35.2 L307.1,34.8 L307.3,34.8 L307.5,35.2 L307.8,36.0 L308.0,37.4 L308.3,39.4 L308.5,42.0 L308.7,45.3 L309.0,49.4 L309.2,54.0 L309.5,59.0 L309.7,64.4 L310.0,70.0 L310.3,76.1 L310.6,82.7 L311.0,89.6 L311.3,96.6 L311.7,103.5 L312.0,110.1 L312.3,116.4 L312.7,122.7 L313.0,128.9 L313.3,134.8 L313.7,140.3 L314.0,145.1 L314.3,149.2 L314.7,152.8 L315.0,155.9 L315.3,158.6 L315.7,161.0 L316.0,163.1 L316.3,165.0 L316.6,166.5 L316.9,167.6 L317.2,168.6 L317.6,169.4 L318.0,170.2 L318.4,170.9 L318.8,171.4 L319.2,171.8 L319.8,172.2 L320.7,172.4 L322.0,172.7 L324.0,173.0 L326.7,173.2 L329.8,173.4 L332.7,173.5 L335.2,173.6 L337.0,173.7" fill="none" stroke="#5ed02a" stroke-width="0.75" stroke-opacity="0.65" stroke-linejoin="round"/>
<path d="M238.0,147.9 L238.7,148.1 L239.7,148.3 L240.9,148.5 L242.2,148.8 L243.6,149.1 L245.0,149.4 L246.5,149.7 L248.1,150.0 L249.8,150.3 L251.6,150.6 L253.3,151.0 L255.0,151.3 L256.7,151.5 L258.3,151.8 L260.0,152.1 L261.7,152.4 L263.3,152.7 L265.0,152.9 L266.7,153.2 L268.3,153.5 L270.0,153.7 L271.7,154.0 L273.3,154.2 L275.0,154.5 L276.7,154.7 L278.4,155.0 L280.2,155.2 L281.9,155.4 L283.5,155.6 L285.0,155.8 L286.4,156.0 L287.7,156.2 L288.9,156.3 L290.0,156.5 L291.0,156.6 L292.0,156.7 L292.9,156.8 L293.7,157.0 L294.4,157.1 L295.1,157.2 L295.7,157.2 L296.3,157.0 L296.8,156.7 L297.2,156.3 L297.6,155.9 L298.0,155.2 L298.3,154.3 L298.6,152.9 L298.9,151.2 L299.2,149.1 L299.5,146.8 L299.8,144.1 L300.0,141.3 L300.3,138.2 L300.6,135.0 L300.9,131.6 L301.1,128.1 L301.4,124.2 L301.7,119.9 L302.0,115.1 L302.3,109.7 L302.6,103.6 L303.0,97.2 L303.3,90.6 L303.7,84.2 L304.0,78.1 L304.3,72.1 L304.7,65.9 L305.1,59.9 L305.4,54.2 L305.7,49.2 L306.0,45.0 L306.2,41.8 L306.4,39.3 L306.6,37.4 L306.7,36.1 L306.9,35.3 L307.1,34.8 L307.3,34.8 L307.5,35.2 L307.8,36.0 L308.0,37.5 L308.3,39.4 L308.5,42.0 L308.7,45.4 L309.0,49.4 L309.2,54.0 L309.5,59.1 L309.7,64.5 L310.0,70.1 L310.3,76.1 L310.6,82.7 L311.0,89.7 L311.3,96.7 L311.7,103.6 L312.0,110.1 L312.3,116.4 L312.7,122.8 L313.0,129.0 L313.3,134.9 L313.7,140.3 L314.0,145.1 L314.3,149.3 L314.7,152.8 L315.0,156.0 L315.3,158.7 L315.7,161.1 L316.0,163.3 L316.3,165.2 L316.6,166.6 L316.9,167.8 L317.2,168.8 L317.6,169.6 L318.0,170.4 L318.4,171.1 L318.8,171.7 L319.2,172.1 L319.8,172.4 L320.7,172.6 L322.0,172.9 L324.0,173.2 L326.7,173.4 L329.8,173.6 L332.7,173.7 L335.2,173.8 L337.0,173.9" fill="none" stroke="#5ed02a" stroke-width="0.75" stroke-opacity="0.65" stroke-linejoin="round"/>
<path d="M238.0,148.6 L238.7,148.8 L239.7,149.0 L240.9,149.2 L242.2,149.5 L243.6,149.8 L245.0,150.1 L246.5,150.4 L248.1,150.7 L249.8,151.0 L251.6,151.3 L253.3,151.6 L255.0,151.9 L256.7,152.2 L258.3,152.4 L260.0,152.7 L261.7,153.0 L263.3,153.2 L265.0,153.5 L266.7,153.7 L268.3,154.0 L270.0,154.2 L271.7,154.5 L273.3,154.7 L275.0,155.0 L276.7,155.2 L278.4,155.4 L280.2,155.7 L281.9,155.9 L283.5,156.1 L285.0,156.3 L286.4,156.4 L287.7,156.6 L288.9,156.7 L290.0,156.8 L291.0,157.0 L292.0,157.1 L292.9,157.2 L293.7,157.3 L294.4,157.5 L295.1,157.5 L295.7,157.5 L296.3,157.2 L296.8,156.9 L297.2,156.6 L297.6,156.1 L298.0,155.5 L298.3,154.5 L298.6,153.1 L298.9,151.4 L299.2,149.3 L299.5,146.9 L299.8,144.3 L300.0,141.4 L300.3,138.3 L300.6,135.1 L300.9,131.7 L301.1,128.1 L301.4,124.2 L301.7,119.9 L302.0,115.2 L302.3,109.7 L302.6,103.7 L303.0,97.3 L303.3,90.7 L303.7,84.2 L304.0,78.1 L304.3,72.1 L304.7,65.9 L305.1,59.9 L305.4,54.2 L305.7,49.2 L306.0,45.1 L306.2,41.8 L306.4,39.3 L306.6,37.4 L306.7,36.1 L306.9,35.3 L307.1,34.8 L307.3,34.8 L307.5,35.2 L307.8,36.1 L308.0,37.5 L308.3,39.5 L308.5,42.1 L308.7,45.4 L309.0,49.4 L309.2,54.0 L309.5,59.1 L309.7,64.5 L310.0,70.1 L310.3,76.1 L310.6,82.8 L311.0,89.7 L311.3,96.7 L311.7,103.6 L312.0,110.2 L312.3,116.5 L312.7,122.8 L313.0,129.1 L313.3,135.0 L313.7,140.4 L314.0,145.2 L314.3,149.3 L314.7,152.9 L315.0,156.1 L315.3,158.8 L315.7,161.2 L316.0,163.4 L316.3,165.3 L316.6,166.8 L316.9,168.0 L317.2,169.0 L317.6,169.8 L318.0,170.6 L318.4,171.3 L318.8,171.9 L319.2,172.3 L319.8,172.6 L320.7,172.9 L322.0,173.1 L324.0,173.4 L326.7,173.6 L329.8,173.8 L332.7,173.9 L335.2,174.0 L337.0,174.1" fill="none" stroke="#5ed02a" stroke-width="0.75" stroke-opacity="0.65" stroke-linejoin="round"/>
<rect x="220.2" y="185" width="123.10000000000002" height="15" fill="#fdfdfd" stroke="#cfcfcf" stroke-width="0.7"/>
<rect x="223.2" y="188" width="3.6" height="3" fill="#c0392b"/>
<rect x="227.5" y="189" width="1.2" height="1.4" fill="#999"/>
<rect x="231.4" y="188" width="3.6" height="3" fill="#e8b010"/>
<rect x="235.7" y="189" width="1.2" height="1.4" fill="#999"/>
<rect x="239.6" y="188" width="3.6" height="3" fill="#7bd020"/>
<rect x="243.9" y="189" width="1.2" height="1.4" fill="#999"/>
<rect x="247.8" y="188" width="3.6" height="3" fill="#50d080"/>
<rect x="252.1" y="189" width="1.2" height="1.4" fill="#999"/>
<rect x="256.0" y="188" width="3.6" height="3" fill="#40a8e0"/>
<rect x="260.3" y="189" width="1.2" height="1.4" fill="#999"/>
<rect x="264.2" y="188" width="3.6" height="3" fill="#2020d0"/>
<rect x="268.5" y="189" width="1.2" height="1.4" fill="#999"/>
<rect x="272.4" y="188" width="3.6" height="3" fill="#9020d0"/>
<rect x="276.7" y="189" width="1.2" height="1.4" fill="#999"/>
<rect x="280.6" y="188" width="3.6" height="3" fill="#c02090"/>
<rect x="284.9" y="189" width="1.2" height="1.4" fill="#999"/>
<rect x="76" y="148.6" width="3" height="179.2" fill="#000"/>
<rect x="71" y="148.6" width="5" height="2.7" fill="#000"/>
<text x="69.2" y="154.8" font-family="Liberation Serif" font-weight="bold" font-size="13.2" text-anchor="end" textLength="24.6" lengthAdjust="spacing" fill="#111">1.50</text>
<rect x="71" y="178.0" width="5" height="2.7" fill="#000"/>
<text x="69.2" y="184.2" font-family="Liberation Serif" font-weight="bold" font-size="13.2" text-anchor="end" textLength="24.6" lengthAdjust="spacing" fill="#111">1.25</text>
<rect x="71" y="207.4" width="5" height="2.7" fill="#000"/>
<text x="69.2" y="213.6" font-family="Liberation Serif" font-weight="bold" font-size="13.2" text-anchor="end" textLength="24.6" lengthAdjust="spacing" fill="#111">1.00</text>
<rect x="71" y="236.8" width="5" height="2.7" fill="#000"/>
<text x="69.2" y="243.0" font-family="Liberation Serif" font-weight="bold" font-size="13.2" text-anchor="end" textLength="24.6" lengthAdjust="spacing" fill="#111">0.75</text>
<rect x="71" y="266.1" width="5" height="2.7" fill="#000"/>
<text x="69.2" y="272.4" font-family="Liberation Serif" font-weight="bold" font-size="13.2" text-anchor="end" textLength="24.6" lengthAdjust="spacing" fill="#111">0.50</text>
<rect x="71" y="295.6" width="5" height="2.7" fill="#000"/>
<text x="69.2" y="301.8" font-family="Liberation Serif" font-weight="bold" font-size="13.2" text-anchor="end" textLength="24.6" lengthAdjust="spacing" fill="#111">0.25</text>
<rect x="71" y="324.9" width="5" height="2.7" fill="#000"/>
<text x="69.2" y="331.2" font-family="Liberation Serif" font-weight="bold" font-size="13.2" text-anchor="end" textLength="24.6" lengthAdjust="spacing" fill="#111">0.00</text>
<rect x="83.0" y="208.0" width="31.4" height="117.0" rx="1.2" fill="#000"/>
<rect x="125.2" y="278.0" width="31.6" height="47.0" rx="1.2" fill="#000"/>
<rect x="133.4" y="282.5" width="18.4" height="42.5" fill="url(#dotsA)"/>
<rect x="132.3" y="275.0" width="17.4" height="4.5" rx="1.5" fill="#000"/>
<rect x="168.5" y="236.4" width="31.9" height="88.6" rx="1.2" fill="#000"/>
<rect x="171.7" y="239.6" width="25.5" height="85.4" fill="url(#hstripe)"/>
<rect x="175.7" y="233.5" width="17.5" height="4.4" rx="1.5" fill="#000"/>
<rect x="212.0" y="262.0" width="30.6" height="63.0" rx="1.2" fill="#000"/>
<rect x="215.2" y="265.2" width="24.2" height="59.8" fill="url(#vstripe)"/>
<rect x="218.9" y="260.3" width="16.8" height="3.2" rx="1.5" fill="#000"/>
<rect x="254.0" y="251.5" width="32.4" height="73.5" rx="1.2" fill="#000"/>
<rect x="257.2" y="254.7" width="26.0" height="70.3" fill="url(#hatchF)"/>
<rect x="261.3" y="249.5" width="17.8" height="3.5" rx="1.5" fill="#000"/>
<rect x="298.0" y="243.5" width="30.0" height="81.5" rx="1.2" fill="#000"/>
<rect x="301.2" y="246.7" width="23.6" height="78.3" fill="url(#hatchB)"/>
<rect x="304.8" y="241.3" width="16.5" height="3.7" rx="1.5" fill="#000"/>
<rect x="76" y="324.8" width="259.7" height="3" fill="#000"/>
<rect x="97.3" y="327" width="2.6" height="5.5" fill="#000"/>
<rect x="139.7" y="327" width="2.6" height="5.5" fill="#000"/>
<rect x="183.1" y="327" width="2.6" height="5.5" fill="#000"/>
<rect x="226.0" y="327" width="2.6" height="5.5" fill="#000"/>
<rect x="269.0" y="327" width="2.6" height="5.5" fill="#000"/>
<rect x="311.7" y="327" width="2.6" height="5.5" fill="#000"/>
<line x1="134.90" y1="263.30" x2="134.90" y2="267.90" stroke="#6e6e6e" stroke-width="1.25" stroke-linecap="round"/>
<line x1="132.91" y1="264.45" x2="136.89" y2="266.75" stroke="#6e6e6e" stroke-width="1.25" stroke-linecap="round"/>
<line x1="136.89" y1="264.45" x2="132.91" y2="266.75" stroke="#6e6e6e" stroke-width="1.25" stroke-linecap="round"/>
<circle cx="134.90" cy="265.60" r="1.1" fill="#6e6e6e"/>
<line x1="142.90" y1="263.30" x2="142.90" y2="267.90" stroke="#6e6e6e" stroke-width="1.25" stroke-linecap="round"/>
<line x1="140.91" y1="264.45" x2="144.89" y2="266.75" stroke="#6e6e6e" stroke-width="1.25" stroke-linecap="round"/>
<line x1="144.89" y1="264.45" x2="140.91" y2="266.75" stroke="#6e6e6e" stroke-width="1.25" stroke-linecap="round"/>
<circle cx="142.90" cy="265.60" r="1.1" fill="#6e6e6e"/>
<line x1="150.90" y1="263.30" x2="150.90" y2="267.90" stroke="#6e6e6e" stroke-width="1.25" stroke-linecap="round"/>
<line x1="148.91" y1="264.45" x2="152.89" y2="266.75" stroke="#6e6e6e" stroke-width="1.25" stroke-linecap="round"/>
<line x1="152.89" y1="264.45" x2="148.91" y2="266.75" stroke="#6e6e6e" stroke-width="1.25" stroke-linecap="round"/>
<circle cx="150.90" cy="265.60" r="1.1" fill="#6e6e6e"/>
<text x="185.0" y="222.7" font-family="Liberation Serif" font-size="13.5" text-anchor="middle" fill="#4a4a4a" textLength="14.2" lengthAdjust="spacing">##</text>
<line x1="226.60" y1="248.00" x2="226.60" y2="252.20" stroke="#6e6e6e" stroke-width="1.25" stroke-linecap="round"/>
<line x1="224.78" y1="249.05" x2="228.42" y2="251.15" stroke="#6e6e6e" stroke-width="1.25" stroke-linecap="round"/>
<line x1="228.42" y1="249.05" x2="224.78" y2="251.15" stroke="#6e6e6e" stroke-width="1.25" stroke-linecap="round"/>
<circle cx="226.60" cy="250.10" r="1.1" fill="#6e6e6e"/>
<text x="270.3" y="241.0" font-family="Liberation Serif" font-size="13.5" text-anchor="middle" fill="#4a4a4a">#</text>
<text x="313.5" y="234.5" font-family="Liberation Serif" font-size="13.5" text-anchor="middle" fill="#4a4a4a" textLength="14.2" lengthAdjust="spacing">##</text>
<text transform="translate(102.0,343.2) rotate(-45)" x="0" y="0" font-family="Liberation Serif" font-weight="bold" font-size="14.6" text-anchor="end" textLength="50" lengthAdjust="spacingAndGlyphs" fill="#111">Control</text>
<text transform="translate(146.0,343.2) rotate(-45)" x="0" y="0" font-family="Liberation Serif" font-weight="bold" font-size="14.6" text-anchor="end" textLength="136" lengthAdjust="spacingAndGlyphs" fill="#111">Scopolamine(2mg/kg)</text>
<text transform="translate(188.5,343.2) rotate(-45)" x="0" y="0" font-family="Liberation Serif" font-weight="bold" font-size="14.6" text-anchor="end" textLength="112" lengthAdjust="spacingAndGlyphs" fill="#111">Donepezil(2.5/mg)</text>
<text transform="translate(231.5,343.2) rotate(-45)" x="0" y="0" font-family="Liberation Serif" font-weight="bold" font-size="14.6" text-anchor="end" textLength="97" lengthAdjust="spacingAndGlyphs" fill="#111">AKBA(5mg/kg)</text>
<text transform="translate(274.5,343.2) rotate(-45)" x="0" y="0" font-family="Liberation Serif" font-weight="bold" font-size="14.6" text-anchor="end" textLength="104.5" lengthAdjust="spacingAndGlyphs" fill="#111">AKBA(10mg/kg)</text>
<text transform="translate(317.5,343.2) rotate(-45)" x="0" y="0" font-family="Liberation Serif" font-weight="bold" font-size="14.6" text-anchor="end" textLength="103.5" lengthAdjust="spacingAndGlyphs" fill="#111">AKBA(15mg/kg)</text>
<text transform="translate(18.0,237.0) rotate(-90)" x="0" y="0" font-family="Liberation Serif" font-weight="bold" font-size="14.8" text-anchor="middle" textLength="232" lengthAdjust="spacingAndGlyphs" fill="#111">Relative Gene expression of  PP ARγ</text>
<rect x="54.6" y="108.6" width="17.8" height="26.0" fill="#fff" stroke="#000" stroke-width="3.2" rx="1"/><text x="63.5" y="127.2" font-family="Liberation Serif" font-size="17" text-anchor="middle" fill="#000">A</text>
<rect x="606" y="3" width="144" height="192" fill="#fdfdfd"/>
<rect x="629.2" y="13.8" width="110.79999999999995" height="150.2" fill="#fdfbfb"/>
<line x1="633.16" y1="13.8" x2="633.16" y2="164" stroke="#e6dfdf" stroke-width="0.5"/>
<line x1="637.11" y1="13.8" x2="637.11" y2="164" stroke="#e6dfdf" stroke-width="0.5"/>
<line x1="641.07" y1="13.8" x2="641.07" y2="164" stroke="#e6dfdf" stroke-width="0.5"/>
<line x1="645.03" y1="13.8" x2="645.03" y2="164" stroke="#e6dfdf" stroke-width="0.5"/>
<line x1="648.99" y1="13.8" x2="648.99" y2="164" stroke="#e6dfdf" stroke-width="0.5"/>
<line x1="652.94" y1="13.8" x2="652.94" y2="164" stroke="#e6dfdf" stroke-width="0.5"/>
<line x1="656.90" y1="13.8" x2="656.90" y2="164" stroke="#e6dfdf" stroke-width="0.5"/>
<line x1="660.86" y1="13.8" x2="660.86" y2="164" stroke="#e6dfdf" stroke-width="0.5"/>
<line x1="664.81" y1="13.8" x2="664.81" y2="164" stroke="#e6dfdf" stroke-width="0.5"/>
<line x1="668.77" y1="13.8" x2="668.77" y2="164" stroke="#e6dfdf" stroke-width="0.5"/>
<line x1="672.73" y1="13.8" x2="672.73" y2="164" stroke="#e6dfdf" stroke-width="0.5"/>
<line x1="676.69" y1="13.8" x2="676.69" y2="164" stroke="#e6dfdf" stroke-width="0.5"/>
<line x1="680.64" y1="13.8" x2="680.64" y2="164" stroke="#e6dfdf" stroke-width="0.5"/>
<line x1="684.60" y1="13.8" x2="684.60" y2="164" stroke="#e6dfdf" stroke-width="0.5"/>
<line x1="688.56" y1="13.8" x2="688.56" y2="164" stroke="#e6dfdf" stroke-width="0.5"/>
<line x1="692.51" y1="13.8" x2="692.51" y2="164" stroke="#e6dfdf" stroke-width="0.5"/>
<line x1="696.47" y1="13.8" x2="696.47" y2="164" stroke="#e6dfdf" stroke-width="0.5"/>
<line x1="700.43" y1="13.8" x2="700.43" y2="164" stroke="#e6dfdf" stroke-width="0.5"/>
<line x1="704.39" y1="13.8" x2="704.39" y2="164" stroke="#e6dfdf" stroke-width="0.5"/>
<line x1="708.34" y1="13.8" x2="708.34" y2="164" stroke="#e6dfdf" stroke-width="0.5"/>
<line x1="712.30" y1="13.8" x2="712.30" y2="164" stroke="#e6dfdf" stroke-width="0.5"/>
<line x1="716.26" y1="13.8" x2="716.26" y2="164" stroke="#e6dfdf" stroke-width="0.5"/>
<line x1="720.21" y1="13.8" x2="720.21" y2="164" stroke="#e6dfdf" stroke-width="0.5"/>
<line x1="724.17" y1="13.8" x2="724.17" y2="164" stroke="#e6dfdf" stroke-width="0.5"/>
<line x1="728.13" y1="13.8" x2="728.13" y2="164" stroke="#e6dfdf" stroke-width="0.5"/>
<line x1="732.09" y1="13.8" x2="732.09" y2="164" stroke="#e6dfdf" stroke-width="0.5"/>
<line x1="736.04" y1="13.8" x2="736.04" y2="164" stroke="#e6dfdf" stroke-width="0.5"/>
<line x1="629.2" y1="17.86" x2="740" y2="17.86" stroke="#e6dfdf" stroke-width="0.5"/>
<line x1="629.2" y1="21.92" x2="740" y2="21.92" stroke="#e6dfdf" stroke-width="0.5"/>
<line x1="629.2" y1="25.98" x2="740" y2="25.98" stroke="#e6dfdf" stroke-width="0.5"/>
<line x1="629.2" y1="30.04" x2="740" y2="30.04" stroke="#e6dfdf" stroke-width="0.5"/>
<line x1="629.2" y1="34.10" x2="740" y2="34.10" stroke="#e6dfdf" stroke-width="0.5"/>
<line x1="629.2" y1="38.16" x2="740" y2="38.16" stroke="#e6dfdf" stroke-width="0.5"/>
<line x1="629.2" y1="42.22" x2="740" y2="42.22" stroke="#e6dfdf" stroke-width="0.5"/>
<line x1="629.2" y1="46.28" x2="740" y2="46.28" stroke="#e6dfdf" stroke-width="0.5"/>
<line x1="629.2" y1="50.34" x2="740" y2="50.34" stroke="#e6dfdf" stroke-width="0.5"/>
<line x1="629.2" y1="54.39" x2="740" y2="54.39" stroke="#e6dfdf" stroke-width="0.5"/>
<line x1="629.2" y1="58.45" x2="740" y2="58.45" stroke="#e6dfdf" stroke-width="0.5"/>
<line x1="629.2" y1="62.51" x2="740" y2="62.51" stroke="#e6dfdf" stroke-width="0.5"/>
<line x1="629.2" y1="66.57" x2="740" y2="66.57" stroke="#e6dfdf" stroke-width="0.5"/>
<line x1="629.2" y1="70.63" x2="740" y2="70.63" stroke="#e6dfdf" stroke-width="0.5"/>
<line x1="629.2" y1="74.69" x2="740" y2="74.69" stroke="#e6dfdf" stroke-width="0.5"/>
<line x1="629.2" y1="78.75" x2="740" y2="78.75" stroke="#e6dfdf" stroke-width="0.5"/>
<line x1="629.2" y1="82.81" x2="740" y2="82.81" stroke="#e6dfdf" stroke-width="0.5"/>
<line x1="629.2" y1="86.87" x2="740" y2="86.87" stroke="#e6dfdf" stroke-width="0.5"/>
<line x1="629.2" y1="90.93" x2="740" y2="90.93" stroke="#e6dfdf" stroke-width="0.5"/>
<line x1="629.2" y1="94.99" x2="740" y2="94.99" stroke="#e6dfdf" stroke-width="0.5"/>
<line x1="629.2" y1="99.05" x2="740" y2="99.05" stroke="#e6dfdf" stroke-width="0.5"/>
<line x1="629.2" y1="103.11" x2="740" y2="103.11" stroke="#e6dfdf" stroke-width="0.5"/>
<line x1="629.2" y1="107.17" x2="740" y2="107.17" stroke="#e6dfdf" stroke-width="0.5"/>
<line x1="629.2" y1="111.23" x2="740" y2="111.23" stroke="#e6dfdf" stroke-width="0.5"/>
<line x1="629.2" y1="115.29" x2="740" y2="115.29" stroke="#e6dfdf" stroke-width="0.5"/>
<line x1="629.2" y1="119.35" x2="740" y2="119.35" stroke="#e6dfdf" stroke-width="0.5"/>
<line x1="629.2" y1="123.41" x2="740" y2="123.41" stroke="#e6dfdf" stroke-width="0.5"/>
<line x1="629.2" y1="127.46" x2="740" y2="127.46" stroke="#e6dfdf" stroke-width="0.5"/>
<line x1="629.2" y1="131.52" x2="740" y2="131.52" stroke="#e6dfdf" stroke-width="0.5"/>
<line x1="629.2" y1="135.58" x2="740" y2="135.58" stroke="#e6dfdf" stroke-width="0.5"/>
<line x1="629.2" y1="139.64" x2="740" y2="139.64" stroke="#e6dfdf" stroke-width="0.5"/>
<line x1="629.2" y1="143.70" x2="740" y2="143.70" stroke="#e6dfdf" stroke-width="0.5"/>
<line x1="629.2" y1="147.76" x2="740" y2="147.76" stroke="#e6dfdf" stroke-width="0.5"/>
<line x1="629.2" y1="151.82" x2="740" y2="151.82" stroke="#e6dfdf" stroke-width="0.5"/>
<line x1="629.2" y1="155.88" x2="740" y2="155.88" stroke="#e6dfdf" stroke-width="0.5"/>
<line x1="629.2" y1="159.94" x2="740" y2="159.94" stroke="#e6dfdf" stroke-width="0.5"/>
<line x1="647.67" y1="13.8" x2="647.67" y2="164" stroke="#d2c8c8" stroke-width="0.6"/>
<line x1="666.13" y1="13.8" x2="666.13" y2="164" stroke="#d2c8c8" stroke-width="0.6"/>
<line x1="684.60" y1="13.8" x2="684.60" y2="164" stroke="#d2c8c8" stroke-width="0.6"/>
<line x1="703.07" y1="13.8" x2="703.07" y2="164" stroke="#d2c8c8" stroke-width="0.6"/>
<line x1="721.53" y1="13.8" x2="721.53" y2="164" stroke="#d2c8c8" stroke-width="0.6"/>
<line x1="629.2" y1="35.26" x2="740" y2="35.26" stroke="#d2c8c8" stroke-width="0.6"/>
<line x1="629.2" y1="56.71" x2="740" y2="56.71" stroke="#d2c8c8" stroke-width="0.6"/>
<line x1="629.2" y1="78.17" x2="740" y2="78.17" stroke="#d2c8c8" stroke-width="0.6"/>
<line x1="629.2" y1="99.63" x2="740" y2="99.63" stroke="#d2c8c8" stroke-width="0.6"/>
<line x1="629.2" y1="121.09" x2="740" y2="121.09" stroke="#d2c8c8" stroke-width="0.6"/>
<line x1="629.2" y1="142.54" x2="740" y2="142.54" stroke="#d2c8c8" stroke-width="0.6"/>
<line x1="719.3" y1="13.8" x2="719.3" y2="172" stroke="#8f9cc0" stroke-width="0.6"/>
<rect x="629.2" y="13.8" width="110.79999999999995" height="150.2" fill="none" stroke="#8a8a8a" stroke-width="0.7"/>
<rect x="645.7" y="168" width="4" height="1.2" fill="#bbb"/>
<rect x="664.1" y="168" width="4" height="1.2" fill="#bbb"/>
<rect x="682.6" y="168" width="4" height="1.2" fill="#bbb"/>
<rect x="701.1" y="168" width="4" height="1.2" fill="#bbb"/>
<rect x="719.5" y="168" width="4" height="1.2" fill="#bbb"/>
<rect x="738.0" y="168" width="4" height="1.2" fill="#bbb"/>
<rect x="624.2" y="34.7" width="3" height="1.2" fill="#c4c4c4"/>
<rect x="624.2" y="56.1" width="3" height="1.2" fill="#c4c4c4"/>
<rect x="624.2" y="77.6" width="3" height="1.2" fill="#c4c4c4"/>
<rect x="624.2" y="99.0" width="3" height="1.2" fill="#c4c4c4"/>
<rect x="624.2" y="120.5" width="3" height="1.2" fill="#c4c4c4"/>
<rect x="624.2" y="141.9" width="3" height="1.2" fill="#c4c4c4"/>
<rect x="678.6" y="173" width="12" height="1.2" fill="#bbb"/>
<rect x="615.2" y="76.9" width="1" height="24" fill="#c8c8c8"/>
<text x="678.8" y="11" font-family="Liberation Sans" font-weight="bold" font-size="5.8" text-anchor="middle" textLength="24.2" lengthAdjust="spacingAndGlyphs" fill="#2a2a2a">Melt Curve</text>
<path d="M629.2,120.8 L629.6,120.7 L630.1,120.5 L630.8,120.3 L631.5,120.1 L632.3,119.9 L633.0,119.8 L633.7,119.6 L634.5,119.5 L635.3,119.3 L636.1,119.2 L637.0,119.2 L638.0,119.3 L639.0,119.4 L640.1,119.7 L641.2,120.0 L642.4,120.4 L643.6,120.8 L645.0,121.2 L646.5,121.7 L648.1,122.3 L649.8,122.9 L651.6,123.5 L653.3,124.1 L655.0,124.7 L656.7,125.3 L658.3,125.9 L660.0,126.5 L661.7,127.0 L663.3,127.6 L665.0,128.2 L666.7,128.8 L668.3,129.4 L670.0,130.0 L671.7,130.5 L673.3,131.1 L675.0,131.7 L676.7,132.2 L678.4,132.7 L680.2,133.3 L681.9,133.8 L683.5,134.2 L685.0,134.6 L686.4,135.0 L687.6,135.4 L688.8,135.7 L689.9,136.0 L690.9,136.2 L692.0,136.4 L693.1,136.5 L694.1,136.6 L695.1,136.7 L696.1,136.7 L697.1,136.7 L698.0,136.6 L698.9,136.5 L699.8,136.4 L700.6,136.2 L701.4,135.9 L702.2,135.7 L703.0,135.3 L703.7,135.0 L704.4,134.7 L705.1,134.4 L705.8,133.9 L706.4,133.3 L707.0,132.6 L707.6,131.8 L708.1,131.0 L708.6,130.1 L709.1,128.9 L709.5,127.3 L710.0,125.1 L710.4,122.2 L710.9,119.0 L711.3,115.3 L711.7,111.2 L712.1,106.6 L712.5,101.5 L712.9,95.8 L713.3,89.3 L713.8,82.4 L714.2,75.3 L714.6,68.4 L715.0,61.8 L715.4,55.3 L715.9,48.6 L716.3,42.0 L716.7,35.8 L717.1,30.3 L717.5,25.9 L717.8,22.5 L718.2,20.0 L718.5,18.2 L718.8,16.9 L719.0,16.0 L719.3,15.4 L719.5,14.9 L719.7,14.7 L719.9,14.9 L720.1,15.5 L720.4,16.8 L720.6,18.9 L720.9,21.7 L721.2,25.3 L721.5,29.5 L721.8,34.3 L722.2,39.4 L722.5,44.8 L722.8,50.6 L723.2,57.0 L723.5,63.8 L723.8,70.8 L724.2,77.8 L724.5,84.6 L724.8,91.4 L725.2,98.5 L725.5,105.5 L725.8,112.3 L726.2,118.8 L726.5,124.5 L726.8,129.7 L727.1,134.5 L727.4,138.8 L727.7,142.7 L728.0,146.2 L728.3,149.3 L728.6,151.8 L729.0,153.7 L729.3,155.3 L729.7,156.5 L730.1,157.5 L730.5,158.6 L731.0,159.5 L731.5,160.2 L732.0,160.7 L732.6,161.1 L733.3,161.5 L734.0,161.9 L734.9,162.2 L736.0,162.5 L737.2,162.7 L738.4,162.8 L739.3,162.9 L740.0,163.1" fill="none" stroke="#c8461c" stroke-width="0.7" stroke-opacity="0.7" stroke-linejoin="round"/>
<path d="M629.2,122.1 L629.6,122.0 L630.1,121.8 L630.8,121.7 L631.5,121.5 L632.3,121.3 L633.0,121.1 L633.7,121.0 L634.5,120.8 L635.3,120.7 L636.1,120.6 L637.0,120.6 L638.0,120.6 L639.0,120.8 L640.1,121.0 L641.2,121.3 L642.4,121.7 L643.6,122.0 L645.0,122.5 L646.5,122.9 L648.1,123.5 L649.8,124.0 L651.6,124.6 L653.3,125.2 L655.0,125.8 L656.7,126.4 L658.3,126.9 L660.0,127.5 L661.7,128.0 L663.3,128.6 L665.0,129.1 L666.7,129.7 L668.3,130.3 L670.0,130.8 L671.7,131.4 L673.3,131.9 L675.0,132.5 L676.7,133.0 L678.4,133.5 L680.2,134.0 L681.9,134.5 L683.5,134.9 L685.0,135.3 L686.4,135.7 L687.6,136.0 L688.8,136.3 L689.9,136.6 L690.9,136.8 L692.0,137.0 L693.1,137.1 L694.1,137.2 L695.1,137.3 L696.1,137.3 L697.1,137.2 L698.0,137.2 L698.9,137.0 L699.8,136.9 L700.6,136.7 L701.4,136.4 L702.2,136.1 L703.0,135.8 L703.7,135.5 L704.4,135.2 L705.1,134.8 L705.8,134.3 L706.4,133.8 L707.0,133.0 L707.6,132.2 L708.1,131.4 L708.6,130.5 L709.1,129.2 L709.5,127.6 L710.0,125.3 L710.4,122.5 L710.9,119.2 L711.3,115.5 L711.7,111.3 L712.1,106.7 L712.5,101.7 L712.9,95.9 L713.3,89.4 L713.8,82.5 L714.2,75.4 L714.6,68.4 L715.0,61.8 L715.4,55.3 L715.9,48.6 L716.3,42.0 L716.7,35.8 L717.1,30.4 L717.5,25.9 L717.8,22.5 L718.2,20.0 L718.5,18.2 L718.8,16.9 L719.0,16.1 L719.3,15.4 L719.5,14.9 L719.7,14.7 L719.9,14.9 L720.1,15.6 L720.4,16.9 L720.6,18.9 L720.9,21.8 L721.2,25.4 L721.5,29.6 L721.8,34.3 L722.2,39.4 L722.5,44.8 L722.8,50.7 L723.2,57.1 L723.5,63.9 L723.8,70.9 L724.2,77.9 L724.5,84.7 L724.8,91.6 L725.2,98.6 L725.5,105.6 L725.8,112.5 L726.2,118.9 L726.5,124.7 L726.8,129.9 L727.1,134.6 L727.4,139.0 L727.7,142.9 L728.0,146.4 L728.3,149.5 L728.6,152.0 L729.0,154.0 L729.3,155.5 L729.7,156.7 L730.1,157.8 L730.5,158.8 L731.0,159.7 L731.5,160.4 L732.0,161.0 L732.6,161.4 L733.3,161.8 L734.0,162.1 L734.9,162.5 L736.0,162.7 L737.2,162.9 L738.4,163.1 L739.3,163.2 L740.0,163.3" fill="none" stroke="#c8461c" stroke-width="0.7" stroke-opacity="0.7" stroke-linejoin="round"/>
<path d="M629.2,123.5 L629.6,123.4 L630.1,123.2 L630.8,123.0 L631.5,122.8 L632.3,122.6 L633.0,122.5 L633.7,122.3 L634.5,122.2 L635.3,122.1 L636.1,122.0 L637.0,121.9 L638.0,122.0 L639.0,122.1 L640.1,122.3 L641.2,122.6 L642.4,122.9 L643.6,123.3 L645.0,123.7 L646.5,124.1 L648.1,124.6 L649.8,125.2 L651.6,125.8 L653.3,126.3 L655.0,126.9 L656.7,127.4 L658.3,127.9 L660.0,128.5 L661.7,129.0 L663.3,129.5 L665.0,130.1 L666.7,130.6 L668.3,131.2 L670.0,131.7 L671.7,132.3 L673.3,132.8 L675.0,133.3 L676.7,133.8 L678.4,134.3 L680.2,134.7 L681.9,135.2 L683.5,135.6 L685.0,136.0 L686.4,136.3 L687.6,136.7 L688.8,137.0 L689.9,137.2 L690.9,137.4 L692.0,137.6 L693.1,137.7 L694.1,137.8 L695.1,137.8 L696.1,137.8 L697.1,137.8 L698.0,137.7 L698.9,137.6 L699.8,137.4 L700.6,137.2 L701.4,136.9 L702.2,136.6 L703.0,136.3 L703.7,136.0 L704.4,135.6 L705.1,135.2 L705.8,134.8 L706.4,134.2 L707.0,133.4 L707.6,132.6 L708.1,131.7 L708.6,130.8 L709.1,129.6 L709.5,127.9 L710.0,125.6 L710.4,122.7 L710.9,119.4 L711.3,115.7 L711.7,111.5 L712.1,106.9 L712.5,101.8 L712.9,96.0 L713.3,89.5 L713.8,82.6 L714.2,75.5 L714.6,68.5 L715.0,61.9 L715.4,55.4 L715.9,48.7 L716.3,42.1 L716.7,35.9 L717.1,30.4 L717.5,25.9 L717.8,22.6 L718.2,20.0 L718.5,18.2 L718.8,17.0 L719.0,16.1 L719.3,15.5 L719.5,15.0 L719.7,14.8 L719.9,14.9 L720.1,15.6 L720.4,16.9 L720.6,18.9 L720.9,21.8 L721.2,25.4 L721.5,29.6 L721.8,34.4 L722.2,39.5 L722.5,44.9 L722.8,50.7 L723.2,57.2 L723.5,64.0 L723.8,71.0 L724.2,78.0 L724.5,84.8 L724.8,91.7 L725.2,98.7 L725.5,105.8 L725.8,112.6 L726.2,119.0 L726.5,124.8 L726.8,130.0 L727.1,134.8 L727.4,139.2 L727.7,143.1 L728.0,146.6 L728.3,149.7 L728.6,152.2 L729.0,154.2 L729.3,155.7 L729.7,157.0 L730.1,158.1 L730.5,159.1 L731.0,160.0 L731.5,160.7 L732.0,161.3 L732.6,161.7 L733.3,162.0 L734.0,162.4 L734.9,162.7 L736.0,163.0 L737.2,163.2 L738.4,163.4 L739.3,163.5 L740.0,163.6" fill="none" stroke="#c8461c" stroke-width="0.7" stroke-opacity="0.7" stroke-linejoin="round"/>
<path d="M629.2,124.8 L629.6,124.7 L630.1,124.5 L630.8,124.4 L631.5,124.2 L632.3,124.0 L633.0,123.8 L633.7,123.7 L634.5,123.5 L635.3,123.4 L636.1,123.3 L637.0,123.3 L638.0,123.3 L639.0,123.4 L640.1,123.6 L641.2,123.9 L642.4,124.2 L643.6,124.5 L645.0,124.9 L646.5,125.3 L648.1,125.8 L649.8,126.3 L651.6,126.9 L653.3,127.4 L655.0,128.0 L656.7,128.5 L658.3,129.0 L660.0,129.5 L661.7,130.0 L663.3,130.5 L665.0,131.0 L666.7,131.5 L668.3,132.1 L670.0,132.6 L671.7,133.1 L673.3,133.6 L675.0,134.1 L676.7,134.6 L678.4,135.0 L680.2,135.5 L681.9,135.9 L683.5,136.3 L685.0,136.7 L686.4,137.0 L687.6,137.3 L688.8,137.6 L689.9,137.8 L690.9,138.0 L692.0,138.2 L693.1,138.3 L694.1,138.4 L695.1,138.4 L696.1,138.4 L697.1,138.3 L698.0,138.2 L698.9,138.1 L699.8,137.9 L700.6,137.7 L701.4,137.4 L702.2,137.1 L703.0,136.8 L703.7,136.4 L704.4,136.1 L705.1,135.7 L705.8,135.2 L706.4,134.6 L707.0,133.8 L707.6,132.9 L708.1,132.1 L708.6,131.1 L709.1,129.9 L709.5,128.2 L710.0,125.9 L710.4,123.0 L710.9,119.7 L711.3,115.9 L711.7,111.7 L712.1,107.0 L712.5,101.9 L712.9,96.2 L713.3,89.7 L713.8,82.7 L714.2,75.6 L714.6,68.6 L715.0,62.0 L715.4,55.4 L715.9,48.7 L716.3,42.1 L716.7,35.9 L717.1,30.5 L717.5,26.0 L717.8,22.6 L718.2,20.1 L718.5,18.3 L718.8,17.0 L719.0,16.1 L719.3,15.5 L719.5,15.0 L719.7,14.8 L719.9,15.0 L720.1,15.6 L720.4,16.9 L720.6,19.0 L720.9,21.8 L721.2,25.5 L721.5,29.7 L721.8,34.4 L722.2,39.6 L722.5,45.0 L722.8,50.8 L723.2,57.3 L723.5,64.1 L723.8,71.1 L724.2,78.1 L724.5,84.9 L724.8,91.8 L725.2,98.8 L725.5,105.9 L725.8,112.7 L726.2,119.1 L726.5,124.9 L726.8,130.1 L727.1,134.9 L727.4,139.3 L727.7,143.3 L728.0,146.8 L728.3,149.9 L728.6,152.4 L729.0,154.4 L729.3,156.0 L729.7,157.2 L730.1,158.3 L730.5,159.4 L731.0,160.3 L731.5,161.0 L732.0,161.5 L732.6,161.9 L733.3,162.3 L734.0,162.7 L734.9,163.0 L736.0,163.3 L737.2,163.5 L738.4,163.6 L739.3,163.8 L740.0,163.9" fill="none" stroke="#c8461c" stroke-width="0.7" stroke-opacity="0.7" stroke-linejoin="round"/>
<path d="M629.2,126.2 L629.6,126.1 L630.1,125.9 L630.8,125.7 L631.5,125.5 L632.3,125.3 L633.0,125.2 L633.7,125.0 L634.5,124.9 L635.3,124.8 L636.1,124.7 L637.0,124.6 L638.0,124.7 L639.0,124.8 L640.1,125.0 L641.2,125.2 L642.4,125.4 L643.6,125.8 L645.0,126.1 L646.5,126.5 L648.1,127.0 L649.8,127.5 L651.6,128.0 L653.3,128.5 L655.0,129.0 L656.7,129.5 L658.3,130.0 L660.0,130.5 L661.7,131.0 L663.3,131.5 L665.0,132.0 L666.7,132.5 L668.3,133.0 L670.0,133.5 L671.7,134.0 L673.3,134.4 L675.0,134.9 L676.7,135.4 L678.4,135.8 L680.2,136.2 L681.9,136.6 L683.5,137.0 L685.0,137.3 L686.4,137.7 L687.6,138.0 L688.8,138.2 L689.9,138.5 L690.9,138.7 L692.0,138.8 L693.1,138.9 L694.1,139.0 L695.1,139.0 L696.1,138.9 L697.1,138.9 L698.0,138.8 L698.9,138.6 L699.8,138.4 L700.6,138.2 L701.4,137.9 L702.2,137.6 L703.0,137.2 L703.7,136.9 L704.4,136.5 L705.1,136.1 L705.8,135.6 L706.4,135.0 L707.0,134.2 L707.6,133.3 L708.1,132.5 L708.6,131.5 L709.1,130.2 L709.5,128.5 L710.0,126.1 L710.4,123.2 L710.9,119.9 L711.3,116.1 L711.7,111.9 L712.1,107.2 L712.5,102.1 L712.9,96.3 L713.3,89.8 L713.8,82.8 L714.2,75.7 L714.6,68.7 L715.0,62.0 L715.4,55.5 L715.9,48.8 L716.3,42.2 L716.7,36.0 L717.1,30.5 L717.5,26.0 L717.8,22.6 L718.2,20.1 L718.5,18.3 L718.8,17.0 L719.0,16.2 L719.3,15.5 L719.5,15.0 L719.7,14.8 L719.9,15.0 L720.1,15.7 L720.4,17.0 L720.6,19.0 L720.9,21.9 L721.2,25.5 L721.5,29.7 L721.8,34.5 L722.2,39.6 L722.5,45.0 L722.8,50.9 L723.2,57.3 L723.5,64.2 L723.8,71.2 L724.2,78.2 L724.5,85.1 L724.8,91.9 L725.2,98.9 L725.5,106.0 L725.8,112.8 L726.2,119.3 L726.5,125.1 L726.8,130.3 L727.1,135.1 L727.4,139.5 L727.7,143.5 L728.0,147.0 L728.3,150.1 L728.6,152.7 L729.0,154.7 L729.3,156.2 L729.7,157.5 L730.1,158.6 L730.5,159.6 L731.0,160.6 L731.5,161.3 L732.0,161.8 L732.6,162.2 L733.3,162.6 L734.0,162.9 L734.9,163.3 L736.0,163.5 L737.2,163.7 L738.4,163.9 L739.3,164.0 L740.0,164.1" fill="none" stroke="#c8461c" stroke-width="0.7" stroke-opacity="0.7" stroke-linejoin="round"/>
<path d="M629.2,127.5 L629.6,127.4 L630.1,127.2 L630.8,127.1 L631.5,126.9 L632.3,126.7 L633.0,126.5 L633.7,126.4 L634.5,126.3 L635.3,126.1 L636.1,126.0 L637.0,126.0 L638.0,126.0 L639.0,126.1 L640.1,126.3 L641.2,126.5 L642.4,126.7 L643.6,127.0 L645.0,127.3 L646.5,127.7 L648.1,128.1 L649.8,128.6 L651.6,129.1 L653.3,129.6 L655.0,130.1 L656.7,130.6 L658.3,131.1 L660.0,131.5 L661.7,132.0 L663.3,132.5 L665.0,132.9 L666.7,133.4 L668.3,133.9 L670.0,134.3 L671.7,134.8 L673.3,135.3 L675.0,135.7 L676.7,136.1 L678.4,136.6 L680.2,137.0 L681.9,137.3 L683.5,137.7 L685.0,138.0 L686.4,138.3 L687.6,138.6 L688.8,138.9 L689.9,139.1 L690.9,139.3 L692.0,139.4 L693.1,139.5 L694.1,139.5 L695.1,139.5 L696.1,139.5 L697.1,139.4 L698.0,139.3 L698.9,139.1 L699.8,138.9 L700.6,138.7 L701.4,138.4 L702.2,138.1 L703.0,137.7 L703.7,137.3 L704.4,137.0 L705.1,136.6 L705.8,136.1 L706.4,135.4 L707.0,134.6 L707.6,133.7 L708.1,132.8 L708.6,131.8 L709.1,130.5 L709.5,128.8 L710.0,126.4 L710.4,123.5 L710.9,120.1 L711.3,116.3 L711.7,112.0 L712.1,107.3 L712.5,102.2 L712.9,96.4 L713.3,89.9 L713.8,82.9 L714.2,75.8 L714.6,68.7 L715.0,62.1 L715.4,55.6 L715.9,48.8 L716.3,42.2 L716.7,36.0 L717.1,30.5 L717.5,26.1 L717.8,22.7 L718.2,20.1 L718.5,18.3 L718.8,17.1 L719.0,16.2 L719.3,15.5 L719.5,15.1 L719.7,14.8 L719.9,15.0 L720.1,15.7 L720.4,17.0 L720.6,19.1 L720.9,21.9 L721.2,25.6 L721.5,29.8 L721.8,34.5 L722.2,39.7 L722.5,45.1 L722.8,51.0 L723.2,57.4 L723.5,64.3 L723.8,71.3 L724.2,78.3 L724.5,85.2 L724.8,92.0 L725.2,99.1 L725.5,106.1 L725.8,113.0 L726.2,119.4 L726.5,125.2 L726.8,130.4 L727.1,135.3 L727.4,139.7 L727.7,143.6 L728.0,147.2 L728.3,150.3 L728.6,152.9 L729.0,154.9 L729.3,156.5 L729.7,157.7 L730.1,158.8 L730.5,159.9 L731.0,160.8 L731.5,161.5 L732.0,162.1 L732.6,162.5 L733.3,162.8 L734.0,163.2 L734.9,163.5 L736.0,163.8 L737.2,164.0 L738.4,164.2 L739.3,164.3 L740.0,164.4" fill="none" stroke="#c8461c" stroke-width="0.7" stroke-opacity="0.7" stroke-linejoin="round"/>
<path d="M629.2,128.9 L629.6,128.8 L630.1,128.6 L630.8,128.4 L631.5,128.2 L632.3,128.0 L633.0,127.9 L633.7,127.7 L634.5,127.6 L635.3,127.5 L636.1,127.4 L637.0,127.4 L638.0,127.4 L639.0,127.5 L640.1,127.6 L641.2,127.8 L642.4,128.0 L643.6,128.2 L645.0,128.5 L646.5,128.9 L648.1,129.3 L649.8,129.8 L651.6,130.3 L653.3,130.7 L655.0,131.2 L656.7,131.6 L658.3,132.1 L660.0,132.5 L661.7,133.0 L663.3,133.4 L665.0,133.9 L666.7,134.3 L668.3,134.8 L670.0,135.2 L671.7,135.7 L673.3,136.1 L675.0,136.5 L676.7,136.9 L678.4,137.3 L680.2,137.7 L681.9,138.0 L683.5,138.4 L685.0,138.7 L686.4,139.0 L687.6,139.2 L688.8,139.5 L689.9,139.7 L690.9,139.9 L692.0,140.0 L693.1,140.1 L694.1,140.1 L695.1,140.1 L696.1,140.1 L697.1,140.0 L698.0,139.8 L698.9,139.7 L699.8,139.5 L700.6,139.2 L701.4,138.9 L702.2,138.6 L703.0,138.2 L703.7,137.8 L704.4,137.4 L705.1,137.0 L705.8,136.5 L706.4,135.9 L707.0,135.0 L707.6,134.1 L708.1,133.2 L708.6,132.2 L709.1,130.8 L709.5,129.1 L710.0,126.7 L710.4,123.7 L710.9,120.3 L711.3,116.5 L711.7,112.2 L712.1,107.5 L712.5,102.3 L712.9,96.5 L713.3,90.0 L713.8,83.0 L714.2,75.8 L714.6,68.8 L715.0,62.2 L715.4,55.6 L715.9,48.9 L716.3,42.3 L716.7,36.1 L717.1,30.6 L717.5,26.1 L717.8,22.7 L718.2,20.2 L718.5,18.4 L718.8,17.1 L719.0,16.2 L719.3,15.6 L719.5,15.1 L719.7,14.9 L719.9,15.0 L720.1,15.7 L720.4,17.0 L720.6,19.1 L720.9,22.0 L721.2,25.6 L721.5,29.8 L721.8,34.6 L722.2,39.8 L722.5,45.2 L722.8,51.0 L723.2,57.5 L723.5,64.3 L723.8,71.4 L724.2,78.4 L724.5,85.3 L724.8,92.1 L725.2,99.2 L725.5,106.2 L725.8,113.1 L726.2,119.5 L726.5,125.3 L726.8,130.6 L727.1,135.4 L727.4,139.8 L727.7,143.8 L728.0,147.4 L728.3,150.5 L728.6,153.1 L729.0,155.1 L729.3,156.7 L729.7,158.0 L730.1,159.1 L730.5,160.2 L731.0,161.1 L731.5,161.8 L732.0,162.4 L732.6,162.8 L733.3,163.1 L734.0,163.5 L734.9,163.8 L736.0,164.1 L737.2,164.3 L738.4,164.4 L739.3,164.6 L740.0,164.7" fill="none" stroke="#c8461c" stroke-width="0.7" stroke-opacity="0.7" stroke-linejoin="round"/>
<path d="M629.2,130.2 L629.6,130.1 L630.1,129.9 L630.8,129.8 L631.5,129.6 L632.3,129.4 L633.0,129.2 L633.7,129.1 L634.5,129.0 L635.3,128.8 L636.1,128.8 L637.0,128.7 L638.0,128.7 L639.0,128.8 L640.1,128.9 L641.2,129.0 L642.4,129.2 L643.6,129.5 L645.0,129.8 L646.5,130.1 L648.1,130.5 L649.8,130.9 L651.6,131.4 L653.3,131.8 L655.0,132.3 L656.7,132.7 L658.3,133.1 L660.0,133.5 L661.7,134.0 L663.3,134.4 L665.0,134.8 L666.7,135.2 L668.3,135.7 L670.0,136.1 L671.7,136.5 L673.3,136.9 L675.0,137.3 L676.7,137.7 L678.4,138.1 L680.2,138.4 L681.9,138.8 L683.5,139.1 L685.0,139.4 L686.4,139.6 L687.6,139.9 L688.8,140.1 L689.9,140.3 L690.9,140.5 L692.0,140.6 L693.1,140.7 L694.1,140.7 L695.1,140.7 L696.1,140.6 L697.1,140.5 L698.0,140.4 L698.9,140.2 L699.8,140.0 L700.6,139.7 L701.4,139.4 L702.2,139.0 L703.0,138.7 L703.7,138.3 L704.4,137.9 L705.1,137.5 L705.8,136.9 L706.4,136.3 L707.0,135.4 L707.6,134.5 L708.1,133.6 L708.6,132.5 L709.1,131.1 L709.5,129.3 L710.0,126.9 L710.4,124.0 L710.9,120.6 L711.3,116.7 L711.7,112.4 L712.1,107.6 L712.5,102.5 L712.9,96.6 L713.3,90.1 L713.8,83.1 L714.2,75.9 L714.6,68.9 L715.0,62.2 L715.4,55.7 L715.9,49.0 L716.3,42.3 L716.7,36.1 L717.1,30.6 L717.5,26.1 L717.8,22.7 L718.2,20.2 L718.5,18.4 L718.8,17.1 L719.0,16.2 L719.3,15.6 L719.5,15.1 L719.7,14.9 L719.9,15.1 L720.1,15.8 L720.4,17.1 L720.6,19.1 L720.9,22.0 L721.2,25.6 L721.5,29.9 L721.8,34.7 L722.2,39.8 L722.5,45.2 L722.8,51.1 L723.2,57.6 L723.5,64.4 L723.8,71.5 L724.2,78.5 L724.5,85.4 L724.8,92.2 L725.2,99.3 L725.5,106.4 L725.8,113.2 L726.2,119.7 L726.5,125.5 L726.8,130.7 L727.1,135.6 L727.4,140.0 L727.7,144.0 L728.0,147.6 L728.3,150.7 L728.6,153.3 L729.0,155.3 L729.3,156.9 L729.7,158.3 L730.1,159.4 L730.5,160.4 L731.0,161.4 L731.5,162.1 L732.0,162.6 L732.6,163.0 L733.3,163.4 L734.0,163.7 L734.9,164.1 L736.0,164.3 L737.2,164.6 L738.4,164.7 L739.3,164.8 L740.0,164.9" fill="none" stroke="#c8461c" stroke-width="0.7" stroke-opacity="0.7" stroke-linejoin="round"/>
<rect x="609.6" y="176.4" width="137.0" height="15.299999999999983" fill="#fdfdfd" stroke="#cfcfcf" stroke-width="0.7"/>
<rect x="612.6" y="179.4" width="3.6" height="3" fill="#c0392b"/>
<rect x="616.9" y="180.4" width="1.2" height="1.4" fill="#999"/>
<rect x="620.8" y="179.4" width="3.6" height="3" fill="#e8b010"/>
<rect x="625.1" y="180.4" width="1.2" height="1.4" fill="#999"/>
<rect x="629.0" y="179.4" width="3.6" height="3" fill="#7bd020"/>
<rect x="633.3" y="180.4" width="1.2" height="1.4" fill="#999"/>
<rect x="637.2" y="179.4" width="3.6" height="3" fill="#50d080"/>
<rect x="641.5" y="180.4" width="1.2" height="1.4" fill="#999"/>
<rect x="645.4" y="179.4" width="3.6" height="3" fill="#40a8e0"/>
<rect x="649.7" y="180.4" width="1.2" height="1.4" fill="#999"/>
<rect x="653.6" y="179.4" width="3.6" height="3" fill="#2020d0"/>
<rect x="657.9" y="180.4" width="1.2" height="1.4" fill="#999"/>
<rect x="661.8" y="179.4" width="3.6" height="3" fill="#9020d0"/>
<rect x="666.1" y="180.4" width="1.2" height="1.4" fill="#999"/>
<rect x="670.0" y="179.4" width="3.6" height="3" fill="#c02090"/>
<rect x="674.3" y="180.4" width="1.2" height="1.4" fill="#999"/>
<rect x="468.5" y="131.2" width="2.6999999999999886" height="188.9" fill="#000"/>
<rect x="463.5" y="131.2" width="5" height="2.7" fill="#000"/>
<text x="461" y="137.3" font-family="Liberation Serif" font-weight="bold" font-size="14.0" text-anchor="end" textLength="27.5" lengthAdjust="spacing" fill="#111">1.50</text>
<rect x="463.5" y="162.2" width="5" height="2.7" fill="#000"/>
<text x="461" y="168.4" font-family="Liberation Serif" font-weight="bold" font-size="14.0" text-anchor="end" textLength="27.5" lengthAdjust="spacing" fill="#111">1.25</text>
<rect x="463.5" y="193.3" width="5" height="2.7" fill="#000"/>
<text x="461" y="199.4" font-family="Liberation Serif" font-weight="bold" font-size="14.0" text-anchor="end" textLength="27.5" lengthAdjust="spacing" fill="#111">1.00</text>
<rect x="463.5" y="224.3" width="5" height="2.7" fill="#000"/>
<text x="461" y="230.5" font-family="Liberation Serif" font-weight="bold" font-size="14.0" text-anchor="end" textLength="27.5" lengthAdjust="spacing" fill="#111">0.75</text>
<rect x="463.5" y="255.3" width="5" height="2.7" fill="#000"/>
<text x="461" y="261.5" font-family="Liberation Serif" font-weight="bold" font-size="14.0" text-anchor="end" textLength="27.5" lengthAdjust="spacing" fill="#111">0.50</text>
<rect x="463.5" y="286.4" width="5" height="2.7" fill="#000"/>
<text x="461" y="292.6" font-family="Liberation Serif" font-weight="bold" font-size="14.0" text-anchor="end" textLength="27.5" lengthAdjust="spacing" fill="#111">0.25</text>
<rect x="463.5" y="317.4" width="5" height="2.7" fill="#000"/>
<text x="461" y="323.6" font-family="Liberation Serif" font-weight="bold" font-size="14.0" text-anchor="end" textLength="27.5" lengthAdjust="spacing" fill="#111">0.00</text>
<rect x="476.3" y="193.0" width="34.2" height="125.0" rx="1.2" fill="#000"/>
<rect x="523.3" y="255.2" width="34.5" height="62.8" rx="1.2" fill="#000"/>
<rect x="528.6" y="260" width="26.6" height="57.0" fill="url(#dotsB)"/>
<rect x="531.1" y="252.2" width="19.0" height="4.5" rx="1.5" fill="#000"/>
<rect x="571.2" y="210.6" width="34.4" height="107.4" rx="1.2" fill="#000"/>
<rect x="574.4" y="213.8" width="28.0" height="104.2" fill="url(#hstripeB)"/>
<rect x="578.9" y="208.0" width="18.9" height="4.1" rx="1.5" fill="#000"/>
<rect x="633.5" y="234.5" width="4.4" height="10" fill="#000"/>
<rect x="626.4" y="232.7" width="19.4" height="3.4" rx="1.4" fill="#000"/>
<rect x="618.3" y="243.0" width="34.8" height="75.0" rx="1.2" fill="#000"/>
<rect x="621.5" y="246.2" width="28.4" height="71.8" fill="url(#vstripeB)"/>
<rect x="665.0" y="224.4" width="36.0" height="93.6" rx="1.2" fill="#000"/>
<rect x="668.2" y="227.6" width="29.6" height="90.4" fill="url(#hatchBlkF)"/>
<rect x="673.1" y="222.3" width="19.8" height="3.6" rx="1.5" fill="#000"/>
<rect x="713.2" y="215.0" width="34.8" height="103.0" rx="1.2" fill="#000"/>
<rect x="716.4" y="218.2" width="28.4" height="99.8" fill="url(#hatchBlk)"/>
<rect x="721.0" y="211.6" width="19.1" height="4.9" rx="1.5" fill="#000"/>
<rect x="468.5" y="317.5" width="286.7" height="2.7" fill="#000"/>
<rect x="491.2" y="319" width="2.6" height="5.2" fill="#000"/>
<rect x="539.3" y="319" width="2.6" height="5.2" fill="#000"/>
<rect x="586.5" y="319" width="2.6" height="5.2" fill="#000"/>
<rect x="634.8" y="319" width="2.6" height="5.2" fill="#000"/>
<rect x="681.9" y="319" width="2.6" height="5.2" fill="#000"/>
<rect x="729.5" y="319" width="2.6" height="5.2" fill="#000"/>
<line x1="531.60" y1="239.50" x2="531.60" y2="244.90" stroke="#6e6e6e" stroke-width="1.25" stroke-linecap="round"/>
<line x1="529.26" y1="240.85" x2="533.94" y2="243.55" stroke="#6e6e6e" stroke-width="1.25" stroke-linecap="round"/>
<line x1="533.94" y1="240.85" x2="529.26" y2="243.55" stroke="#6e6e6e" stroke-width="1.25" stroke-linecap="round"/>
<circle cx="531.60" cy="242.20" r="1.1" fill="#6e6e6e"/>
<line x1="540.10" y1="239.50" x2="540.10" y2="244.90" stroke="#6e6e6e" stroke-width="1.25" stroke-linecap="round"/>
<line x1="537.76" y1="240.85" x2="542.44" y2="243.55" stroke="#6e6e6e" stroke-width="1.25" stroke-linecap="round"/>
<line x1="542.44" y1="240.85" x2="537.76" y2="243.55" stroke="#6e6e6e" stroke-width="1.25" stroke-linecap="round"/>
<circle cx="540.10" cy="242.20" r="1.1" fill="#6e6e6e"/>
<line x1="548.70" y1="239.50" x2="548.70" y2="244.90" stroke="#6e6e6e" stroke-width="1.25" stroke-linecap="round"/>
<line x1="546.36" y1="240.85" x2="551.04" y2="243.55" stroke="#6e6e6e" stroke-width="1.25" stroke-linecap="round"/>
<line x1="551.04" y1="240.85" x2="546.36" y2="243.55" stroke="#6e6e6e" stroke-width="1.25" stroke-linecap="round"/>
<circle cx="548.70" cy="242.20" r="1.1" fill="#6e6e6e"/>
<text x="584.0" y="198.3" font-family="Liberation Serif" font-size="14" text-anchor="middle" fill="#4a4a4a" textLength="15" lengthAdjust="spacing">##</text>
<text x="632.0" y="213.6" font-family="Liberation Serif" font-size="14" text-anchor="middle" fill="#4a4a4a">#</text>
<line x1="632.90" y1="220.40" x2="632.90" y2="225.60" stroke="#6e6e6e" stroke-width="1.25" stroke-linecap="round"/>
<line x1="630.65" y1="221.70" x2="635.15" y2="224.30" stroke="#6e6e6e" stroke-width="1.25" stroke-linecap="round"/>
<line x1="635.15" y1="221.70" x2="630.65" y2="224.30" stroke="#6e6e6e" stroke-width="1.25" stroke-linecap="round"/>
<circle cx="632.90" cy="223.00" r="1.1" fill="#6e6e6e"/>
<text x="683.0" y="214.5" font-family="Liberation Serif" font-size="14" text-anchor="middle" fill="#4a4a4a" textLength="15" lengthAdjust="spacing">##</text>
<text x="730.0" y="208.5" font-family="Liberation Serif" font-size="14" text-anchor="middle" fill="#4a4a4a" textLength="15" lengthAdjust="spacing">##</text>
<text transform="translate(496.8,338.6) rotate(-45)" x="0" y="0" font-family="Liberation Serif" font-weight="bold" font-size="15.5" text-anchor="end" textLength="50.5" lengthAdjust="spacingAndGlyphs" fill="#111">Control</text>
<text transform="translate(544.8,338.6) rotate(-45)" x="0" y="0" font-family="Liberation Serif" font-weight="bold" font-size="15.5" text-anchor="end" textLength="148" lengthAdjust="spacingAndGlyphs" fill="#111">Scopolamine(2mg/kg)</text>
<text transform="translate(591.8,338.6) rotate(-45)" x="0" y="0" font-family="Liberation Serif" font-weight="bold" font-size="15.5" text-anchor="end" textLength="124.5" lengthAdjust="spacingAndGlyphs" fill="#111">Donepezil(2.5/mg)</text>
<text transform="translate(639.8,338.6) rotate(-45)" x="0" y="0" font-family="Liberation Serif" font-weight="bold" font-size="15.5" text-anchor="end" textLength="103" lengthAdjust="spacingAndGlyphs" fill="#111">AKBA(5mg/kg)</text>
<text transform="translate(686.8,338.6) rotate(-45)" x="0" y="0" font-family="Liberation Serif" font-weight="bold" font-size="15.5" text-anchor="end" textLength="111" lengthAdjust="spacingAndGlyphs" fill="#111">AKBA(10mg/kg)</text>
<text transform="translate(734.8,338.6) rotate(-45)" x="0" y="0" font-family="Liberation Serif" font-weight="bold" font-size="15.5" text-anchor="end" textLength="111" lengthAdjust="spacingAndGlyphs" fill="#111">AKBA(15mg/kg)</text>
<text transform="translate(385.3,223.7) rotate(-90)" x="0" y="0" font-family="Liberation Serif" font-weight="bold" font-size="15.3" text-anchor="middle" textLength="174.6" lengthAdjust="spacingAndGlyphs" fill="#111">Relative Gene expression</text>
<text transform="translate(403.4,224.8) rotate(-90)" x="0" y="0" font-family="Liberation Serif" font-weight="bold" font-size="15.3" text-anchor="middle" textLength="69.2" lengthAdjust="spacingAndGlyphs" fill="#111">of MMP-2</text>
<rect x="443.5" y="91.3" width="20.1" height="27.1" fill="#fff" stroke="#000" stroke-width="3" rx="1"/><text x="453.6" y="110.5" font-family="Liberation Serif" font-weight="bold" font-size="17" text-anchor="middle" fill="#000">B</text>
<rect x="218" y="505" width="146" height="208" fill="#fdfdfd"/>
<rect x="242.4" y="522" width="109.9" height="156.5" fill="#fdfbfb"/>
<line x1="246.33" y1="522" x2="246.33" y2="678.5" stroke="#e6dfdf" stroke-width="0.5"/>
<line x1="250.25" y1="522" x2="250.25" y2="678.5" stroke="#e6dfdf" stroke-width="0.5"/>
<line x1="254.18" y1="522" x2="254.18" y2="678.5" stroke="#e6dfdf" stroke-width="0.5"/>
<line x1="258.10" y1="522" x2="258.10" y2="678.5" stroke="#e6dfdf" stroke-width="0.5"/>
<line x1="262.02" y1="522" x2="262.02" y2="678.5" stroke="#e6dfdf" stroke-width="0.5"/>
<line x1="265.95" y1="522" x2="265.95" y2="678.5" stroke="#e6dfdf" stroke-width="0.5"/>
<line x1="269.88" y1="522" x2="269.88" y2="678.5" stroke="#e6dfdf" stroke-width="0.5"/>
<line x1="273.80" y1="522" x2="273.80" y2="678.5" stroke="#e6dfdf" stroke-width="0.5"/>
<line x1="277.73" y1="522" x2="277.73" y2="678.5" stroke="#e6dfdf" stroke-width="0.5"/>
<line x1="281.65" y1="522" x2="281.65" y2="678.5" stroke="#e6dfdf" stroke-width="0.5"/>
<line x1="285.57" y1="522" x2="285.57" y2="678.5" stroke="#e6dfdf" stroke-width="0.5"/>
<line x1="289.50" y1="522" x2="289.50" y2="678.5" stroke="#e6dfdf" stroke-width="0.5"/>
<line x1="293.43" y1="522" x2="293.43" y2="678.5" stroke="#e6dfdf" stroke-width="0.5"/>
<line x1="297.35" y1="522" x2="297.35" y2="678.5" stroke="#e6dfdf" stroke-width="0.5"/>
<line x1="301.27" y1="522" x2="301.27" y2="678.5" stroke="#e6dfdf" stroke-width="0.5"/>
<line x1="305.20" y1="522" x2="305.20" y2="678.5" stroke="#e6dfdf" stroke-width="0.5"/>
<line x1="309.12" y1="522" x2="309.12" y2="678.5" stroke="#e6dfdf" stroke-width="0.5"/>
<line x1="313.05" y1="522" x2="313.05" y2="678.5" stroke="#e6dfdf" stroke-width="0.5"/>
<line x1="316.98" y1="522" x2="316.98" y2="678.5" stroke="#e6dfdf" stroke-width="0.5"/>
<line x1="320.90" y1="522" x2="320.90" y2="678.5" stroke="#e6dfdf" stroke-width="0.5"/>
<line x1="324.82" y1="522" x2="324.82" y2="678.5" stroke="#e6dfdf" stroke-width="0.5"/>
<line x1="328.75" y1="522" x2="328.75" y2="678.5" stroke="#e6dfdf" stroke-width="0.5"/>
<line x1="332.68" y1="522" x2="332.68" y2="678.5" stroke="#e6dfdf" stroke-width="0.5"/>
<line x1="336.60" y1="522" x2="336.60" y2="678.5" stroke="#e6dfdf" stroke-width="0.5"/>
<line x1="340.52" y1="522" x2="340.52" y2="678.5" stroke="#e6dfdf" stroke-width="0.5"/>
<line x1="344.45" y1="522" x2="344.45" y2="678.5" stroke="#e6dfdf" stroke-width="0.5"/>
<line x1="348.38" y1="522" x2="348.38" y2="678.5" stroke="#e6dfdf" stroke-width="0.5"/>
<line x1="242.4" y1="526.01" x2="352.3" y2="526.01" stroke="#e6dfdf" stroke-width="0.5"/>
<line x1="242.4" y1="530.03" x2="352.3" y2="530.03" stroke="#e6dfdf" stroke-width="0.5"/>
<line x1="242.4" y1="534.04" x2="352.3" y2="534.04" stroke="#e6dfdf" stroke-width="0.5"/>
<line x1="242.4" y1="538.05" x2="352.3" y2="538.05" stroke="#e6dfdf" stroke-width="0.5"/>
<line x1="242.4" y1="542.06" x2="352.3" y2="542.06" stroke="#e6dfdf" stroke-width="0.5"/>
<line x1="242.4" y1="546.08" x2="352.3" y2="546.08" stroke="#e6dfdf" stroke-width="0.5"/>
<line x1="242.4" y1="550.09" x2="352.3" y2="550.09" stroke="#e6dfdf" stroke-width="0.5"/>
<line x1="242.4" y1="554.10" x2="352.3" y2="554.10" stroke="#e6dfdf" stroke-width="0.5"/>
<line x1="242.4" y1="558.12" x2="352.3" y2="558.12" stroke="#e6dfdf" stroke-width="0.5"/>
<line x1="242.4" y1="562.13" x2="352.3" y2="562.13" stroke="#e6dfdf" stroke-width="0.5"/>
<line x1="242.4" y1="566.14" x2="352.3" y2="566.14" stroke="#e6dfdf" stroke-width="0.5"/>
<line x1="242.4" y1="570.15" x2="352.3" y2="570.15" stroke="#e6dfdf" stroke-width="0.5"/>
<line x1="242.4" y1="574.17" x2="352.3" y2="574.17" stroke="#e6dfdf" stroke-width="0.5"/>
<line x1="242.4" y1="578.18" x2="352.3" y2="578.18" stroke="#e6dfdf" stroke-width="0.5"/>
<line x1="242.4" y1="582.19" x2="352.3" y2="582.19" stroke="#e6dfdf" stroke-width="0.5"/>
<line x1="242.4" y1="586.21" x2="352.3" y2="586.21" stroke="#e6dfdf" stroke-width="0.5"/>
<line x1="242.4" y1="590.22" x2="352.3" y2="590.22" stroke="#e6dfdf" stroke-width="0.5"/>
<line x1="242.4" y1="594.23" x2="352.3" y2="594.23" stroke="#e6dfdf" stroke-width="0.5"/>
<line x1="242.4" y1="598.24" x2="352.3" y2="598.24" stroke="#e6dfdf" stroke-width="0.5"/>
<line x1="242.4" y1="602.26" x2="352.3" y2="602.26" stroke="#e6dfdf" stroke-width="0.5"/>
<line x1="242.4" y1="606.27" x2="352.3" y2="606.27" stroke="#e6dfdf" stroke-width="0.5"/>
<line x1="242.4" y1="610.28" x2="352.3" y2="610.28" stroke="#e6dfdf" stroke-width="0.5"/>
<line x1="242.4" y1="614.29" x2="352.3" y2="614.29" stroke="#e6dfdf" stroke-width="0.5"/>
<line x1="242.4" y1="618.31" x2="352.3" y2="618.31" stroke="#e6dfdf" stroke-width="0.5"/>
<line x1="242.4" y1="622.32" x2="352.3" y2="622.32" stroke="#e6dfdf" stroke-width="0.5"/>
<line x1="242.4" y1="626.33" x2="352.3" y2="626.33" stroke="#e6dfdf" stroke-width="0.5"/>
<line x1="242.4" y1="630.35" x2="352.3" y2="630.35" stroke="#e6dfdf" stroke-width="0.5"/>
<line x1="242.4" y1="634.36" x2="352.3" y2="634.36" stroke="#e6dfdf" stroke-width="0.5"/>
<line x1="242.4" y1="638.37" x2="352.3" y2="638.37" stroke="#e6dfdf" stroke-width="0.5"/>
<line x1="242.4" y1="642.38" x2="352.3" y2="642.38" stroke="#e6dfdf" stroke-width="0.5"/>
<line x1="242.4" y1="646.40" x2="352.3" y2="646.40" stroke="#e6dfdf" stroke-width="0.5"/>
<line x1="242.4" y1="650.41" x2="352.3" y2="650.41" stroke="#e6dfdf" stroke-width="0.5"/>
<line x1="242.4" y1="654.42" x2="352.3" y2="654.42" stroke="#e6dfdf" stroke-width="0.5"/>
<line x1="242.4" y1="658.44" x2="352.3" y2="658.44" stroke="#e6dfdf" stroke-width="0.5"/>
<line x1="242.4" y1="662.45" x2="352.3" y2="662.45" stroke="#e6dfdf" stroke-width="0.5"/>
<line x1="242.4" y1="666.46" x2="352.3" y2="666.46" stroke="#e6dfdf" stroke-width="0.5"/>
<line x1="242.4" y1="670.47" x2="352.3" y2="670.47" stroke="#e6dfdf" stroke-width="0.5"/>
<line x1="242.4" y1="674.49" x2="352.3" y2="674.49" stroke="#e6dfdf" stroke-width="0.5"/>
<line x1="260.72" y1="522" x2="260.72" y2="678.5" stroke="#d2c8c8" stroke-width="0.6"/>
<line x1="279.03" y1="522" x2="279.03" y2="678.5" stroke="#d2c8c8" stroke-width="0.6"/>
<line x1="297.35" y1="522" x2="297.35" y2="678.5" stroke="#d2c8c8" stroke-width="0.6"/>
<line x1="315.67" y1="522" x2="315.67" y2="678.5" stroke="#d2c8c8" stroke-width="0.6"/>
<line x1="333.98" y1="522" x2="333.98" y2="678.5" stroke="#d2c8c8" stroke-width="0.6"/>
<line x1="242.4" y1="544.36" x2="352.3" y2="544.36" stroke="#d2c8c8" stroke-width="0.6"/>
<line x1="242.4" y1="566.71" x2="352.3" y2="566.71" stroke="#d2c8c8" stroke-width="0.6"/>
<line x1="242.4" y1="589.07" x2="352.3" y2="589.07" stroke="#d2c8c8" stroke-width="0.6"/>
<line x1="242.4" y1="611.43" x2="352.3" y2="611.43" stroke="#d2c8c8" stroke-width="0.6"/>
<line x1="242.4" y1="633.79" x2="352.3" y2="633.79" stroke="#d2c8c8" stroke-width="0.6"/>
<line x1="242.4" y1="656.14" x2="352.3" y2="656.14" stroke="#d2c8c8" stroke-width="0.6"/>
<line x1="326.2" y1="522" x2="326.2" y2="686.5" stroke="#8f9cc0" stroke-width="0.6"/>
<rect x="242.4" y="522" width="109.9" height="156.5" fill="none" stroke="#8a8a8a" stroke-width="0.7"/>
<rect x="258.7" y="682.5" width="4" height="1.2" fill="#bbb"/>
<rect x="277.0" y="682.5" width="4" height="1.2" fill="#bbb"/>
<rect x="295.4" y="682.5" width="4" height="1.2" fill="#bbb"/>
<rect x="313.7" y="682.5" width="4" height="1.2" fill="#bbb"/>
<rect x="332.0" y="682.5" width="4" height="1.2" fill="#bbb"/>
<rect x="350.3" y="682.5" width="4" height="1.2" fill="#bbb"/>
<rect x="237.4" y="543.8" width="3" height="1.2" fill="#c4c4c4"/>
<rect x="237.4" y="566.1" width="3" height="1.2" fill="#c4c4c4"/>
<rect x="237.4" y="588.5" width="3" height="1.2" fill="#c4c4c4"/>
<rect x="237.4" y="610.8" width="3" height="1.2" fill="#c4c4c4"/>
<rect x="237.4" y="633.2" width="3" height="1.2" fill="#c4c4c4"/>
<rect x="237.4" y="655.5" width="3" height="1.2" fill="#c4c4c4"/>
<rect x="291.4" y="687.5" width="12" height="1.2" fill="#bbb"/>
<rect x="228.4" y="588.2" width="1" height="24" fill="#c8c8c8"/>
<text x="291.6" y="518.6" font-family="Liberation Sans" font-weight="bold" font-size="5.8" text-anchor="middle" textLength="24.0" lengthAdjust="spacingAndGlyphs" fill="#2a2a2a">Melt Curve</text>
<path d="M242.4,619.8 L243.0,619.5 L243.8,619.2 L244.8,618.7 L245.8,618.4 L246.9,618.1 L248.0,618.1 L249.1,618.4 L250.2,618.9 L251.4,619.6 L252.6,620.3 L253.8,620.9 L255.0,621.5 L256.1,622.0 L257.2,622.5 L258.3,622.9 L259.4,623.4 L260.7,623.9 L262.0,624.5 L263.5,625.3 L265.1,626.2 L266.8,627.1 L268.6,628.1 L270.3,629.1 L272.0,629.9 L273.7,630.7 L275.3,631.5 L277.0,632.2 L278.7,632.9 L280.3,633.6 L282.0,634.3 L283.7,635.0 L285.3,635.8 L287.0,636.5 L288.7,637.3 L290.3,638.0 L292.0,638.7 L293.7,639.4 L295.4,640.1 L297.1,640.8 L298.8,641.5 L300.4,642.1 L302.0,642.6 L303.5,643.0 L305.0,643.4 L306.4,643.7 L307.7,644.0 L309.0,644.2 L310.0,644.3 L310.9,644.3 L311.5,644.2 L312.1,644.1 L312.6,643.9 L313.0,643.5 L313.5,643.0 L314.0,642.4 L314.4,641.7 L314.8,640.9 L315.2,639.9 L315.6,638.6 L316.0,636.8 L316.4,634.7 L316.9,632.2 L317.3,629.4 L317.7,626.3 L318.1,622.9 L318.5,619.2 L318.9,615.3 L319.2,610.9 L319.5,606.3 L319.9,601.5 L320.2,596.6 L320.5,591.6 L320.8,586.5 L321.2,581.1 L321.5,575.7 L321.8,570.2 L322.2,564.9 L322.5,559.8 L322.8,554.8 L323.2,549.8 L323.5,544.9 L323.9,540.4 L324.2,536.3 L324.5,532.9 L324.8,530.1 L325.1,527.8 L325.3,526.1 L325.6,524.8 L325.8,523.9 L326.1,523.4 L326.3,523.3 L326.6,523.6 L326.8,524.3 L327.0,525.6 L327.3,527.4 L327.5,529.9 L327.7,533.1 L328.0,537.1 L328.2,541.6 L328.5,546.7 L328.7,552.1 L329.0,557.8 L329.3,564.0 L329.6,570.9 L330.0,578.1 L330.3,585.5 L330.7,592.8 L331.0,599.7 L331.3,606.4 L331.7,613.1 L332.0,619.8 L332.3,626.2 L332.7,632.2 L333.0,637.6 L333.3,642.5 L333.6,647.0 L333.9,651.1 L334.3,654.9 L334.6,658.3 L335.0,661.4 L335.4,664.2 L335.8,666.7 L336.2,668.9 L336.7,670.8 L337.3,672.4 L338.0,673.7 L338.8,674.8 L339.7,675.5 L340.7,675.9 L341.7,676.1 L342.8,676.3 L344.0,676.5 L345.3,676.8 L346.9,676.9 L348.5,677.0 L350.1,677.0 L351.4,677.0 L352.3,677.0" fill="none" stroke="#3a9ee0" stroke-width="0.7" stroke-opacity="0.65" stroke-linejoin="round"/>
<path d="M242.4,620.9 L243.0,620.6 L243.8,620.3 L244.8,619.8 L245.8,619.5 L246.9,619.3 L248.0,619.2 L249.1,619.5 L250.2,620.0 L251.4,620.6 L252.6,621.3 L253.8,621.9 L255.0,622.5 L256.1,623.0 L257.2,623.5 L258.3,623.9 L259.4,624.4 L260.7,624.9 L262.0,625.5 L263.5,626.3 L265.1,627.2 L266.8,628.1 L268.6,629.0 L270.3,630.0 L272.0,630.8 L273.7,631.6 L275.3,632.3 L277.0,633.0 L278.7,633.7 L280.3,634.4 L282.0,635.1 L283.7,635.8 L285.3,636.5 L287.0,637.2 L288.7,638.0 L290.3,638.7 L292.0,639.4 L293.7,640.0 L295.4,640.7 L297.1,641.4 L298.8,642.0 L300.4,642.6 L302.0,643.1 L303.5,643.6 L305.0,643.9 L306.4,644.3 L307.7,644.5 L309.0,644.7 L310.0,644.8 L310.9,644.8 L311.5,644.7 L312.1,644.6 L312.6,644.3 L313.0,643.9 L313.5,643.4 L314.0,642.8 L314.4,642.1 L314.8,641.3 L315.2,640.3 L315.6,638.9 L316.0,637.2 L316.4,635.0 L316.9,632.5 L317.3,629.7 L317.7,626.5 L318.1,623.1 L318.5,619.5 L318.9,615.5 L319.2,611.1 L319.5,606.5 L319.9,601.6 L320.2,596.7 L320.5,591.7 L320.8,586.6 L321.2,581.2 L321.5,575.7 L321.8,570.3 L322.2,564.9 L322.5,559.9 L322.8,554.9 L323.2,549.9 L323.5,545.0 L323.9,540.4 L324.2,536.3 L324.5,532.9 L324.8,530.1 L325.1,527.9 L325.3,526.1 L325.6,524.8 L325.8,523.9 L326.1,523.4 L326.3,523.4 L326.6,523.6 L326.8,524.3 L327.0,525.6 L327.3,527.4 L327.5,529.9 L327.7,533.2 L328.0,537.1 L328.2,541.7 L328.5,546.7 L328.7,552.1 L329.0,557.9 L329.3,564.1 L329.6,570.9 L330.0,578.2 L330.3,585.6 L330.7,592.9 L331.0,599.8 L331.3,606.5 L331.7,613.2 L332.0,619.9 L332.3,626.3 L332.7,632.3 L333.0,637.7 L333.3,642.7 L333.6,647.1 L333.9,651.3 L334.3,655.0 L334.6,658.4 L335.0,661.6 L335.4,664.4 L335.8,666.9 L336.2,669.1 L336.7,671.0 L337.3,672.6 L338.0,674.0 L338.8,675.0 L339.7,675.7 L340.7,676.1 L341.7,676.4 L342.8,676.6 L344.0,676.8 L345.3,677.0 L346.9,677.2 L348.5,677.2 L350.1,677.3 L351.4,677.3 L352.3,677.3" fill="none" stroke="#3a9ee0" stroke-width="0.7" stroke-opacity="0.65" stroke-linejoin="round"/>
<path d="M242.4,622.0 L243.0,621.7 L243.8,621.4 L244.8,621.0 L245.8,620.6 L246.9,620.4 L248.0,620.4 L249.1,620.6 L250.2,621.1 L251.4,621.6 L252.6,622.3 L253.8,622.9 L255.0,623.5 L256.1,624.0 L257.2,624.4 L258.3,624.9 L259.4,625.4 L260.7,625.9 L262.0,626.5 L263.5,627.3 L265.1,628.1 L266.8,629.0 L268.6,630.0 L270.3,630.9 L272.0,631.7 L273.7,632.4 L275.3,633.1 L277.0,633.8 L278.7,634.5 L280.3,635.2 L282.0,635.8 L283.7,636.5 L285.3,637.3 L287.0,638.0 L288.7,638.7 L290.3,639.3 L292.0,640.0 L293.7,640.7 L295.4,641.3 L297.1,642.0 L298.8,642.6 L300.4,643.2 L302.0,643.7 L303.5,644.1 L305.0,644.5 L306.4,644.8 L307.7,645.0 L309.0,645.2 L310.0,645.3 L310.9,645.3 L311.5,645.2 L312.1,645.0 L312.6,644.8 L313.0,644.4 L313.5,643.8 L314.0,643.2 L314.4,642.5 L314.8,641.7 L315.2,640.7 L315.6,639.3 L316.0,637.5 L316.4,635.3 L316.9,632.8 L317.3,629.9 L317.7,626.8 L318.1,623.4 L318.5,619.7 L318.9,615.7 L319.2,611.3 L319.5,606.6 L319.9,601.8 L320.2,596.8 L320.5,591.8 L320.8,586.7 L321.2,581.3 L321.5,575.8 L321.8,570.3 L322.2,565.0 L322.5,559.9 L322.8,554.9 L323.2,549.9 L323.5,545.0 L323.9,540.5 L324.2,536.4 L324.5,533.0 L324.8,530.2 L325.1,527.9 L325.3,526.1 L325.6,524.8 L325.8,523.9 L326.1,523.5 L326.3,523.4 L326.6,523.6 L326.8,524.4 L327.0,525.6 L327.3,527.4 L327.5,530.0 L327.7,533.2 L328.0,537.2 L328.2,541.7 L328.5,546.8 L328.7,552.2 L329.0,557.9 L329.3,564.1 L329.6,571.0 L330.0,578.3 L330.3,585.7 L330.7,592.9 L331.0,599.9 L331.3,606.6 L331.7,613.3 L332.0,620.0 L332.3,626.4 L332.7,632.4 L333.0,637.8 L333.3,642.8 L333.6,647.3 L333.9,651.4 L334.3,655.2 L334.6,658.6 L335.0,661.8 L335.4,664.6 L335.8,667.1 L336.2,669.3 L336.7,671.2 L337.3,672.8 L338.0,674.2 L338.8,675.2 L339.7,675.9 L340.7,676.4 L341.7,676.6 L342.8,676.9 L344.0,677.1 L345.3,677.3 L346.9,677.5 L348.5,677.5 L350.1,677.5 L351.4,677.6 L352.3,677.6" fill="none" stroke="#3a9ee0" stroke-width="0.7" stroke-opacity="0.65" stroke-linejoin="round"/>
<path d="M242.4,623.1 L243.0,622.8 L243.8,622.5 L244.8,622.1 L245.8,621.7 L246.9,621.5 L248.0,621.5 L249.1,621.7 L250.2,622.1 L251.4,622.7 L252.6,623.3 L253.8,623.9 L255.0,624.5 L256.1,625.0 L257.2,625.4 L258.3,625.9 L259.4,626.4 L260.7,626.9 L262.0,627.5 L263.5,628.2 L265.1,629.1 L266.8,630.0 L268.6,630.9 L270.3,631.8 L272.0,632.6 L273.7,633.3 L275.3,634.0 L277.0,634.6 L278.7,635.3 L280.3,636.0 L282.0,636.6 L283.7,637.3 L285.3,638.0 L287.0,638.7 L288.7,639.4 L290.3,640.0 L292.0,640.7 L293.7,641.3 L295.4,642.0 L297.1,642.6 L298.8,643.2 L300.4,643.8 L302.0,644.2 L303.5,644.6 L305.0,645.0 L306.4,645.3 L307.7,645.5 L309.0,645.7 L310.0,645.8 L310.9,645.7 L311.5,645.7 L312.1,645.5 L312.6,645.3 L313.0,644.8 L313.5,644.3 L314.0,643.6 L314.4,642.9 L314.8,642.1 L315.2,641.0 L315.6,639.6 L316.0,637.8 L316.4,635.6 L316.9,633.1 L317.3,630.2 L317.7,627.0 L318.1,623.6 L318.5,619.9 L318.9,615.9 L319.2,611.5 L319.5,606.8 L319.9,601.9 L320.2,597.0 L320.5,591.9 L320.8,586.8 L321.2,581.4 L321.5,575.9 L321.8,570.4 L322.2,565.1 L322.5,560.0 L322.8,555.0 L323.2,550.0 L323.5,545.1 L323.9,540.5 L324.2,536.4 L324.5,533.0 L324.8,530.2 L325.1,527.9 L325.3,526.1 L325.6,524.8 L325.8,523.9 L326.1,523.5 L326.3,523.4 L326.6,523.7 L326.8,524.4 L327.0,525.6 L327.3,527.5 L327.5,530.0 L327.7,533.2 L328.0,537.2 L328.2,541.8 L328.5,546.8 L328.7,552.2 L329.0,558.0 L329.3,564.2 L329.6,571.1 L330.0,578.3 L330.3,585.7 L330.7,593.0 L331.0,600.0 L331.3,606.7 L331.7,613.4 L332.0,620.1 L332.3,626.5 L332.7,632.5 L333.0,637.9 L333.3,642.9 L333.6,647.4 L333.9,651.5 L334.3,655.3 L334.6,658.7 L335.0,661.9 L335.4,664.8 L335.8,667.3 L336.2,669.5 L336.7,671.4 L337.3,673.0 L338.0,674.4 L338.8,675.5 L339.7,676.2 L340.7,676.6 L341.7,676.9 L342.8,677.1 L344.0,677.4 L345.3,677.6 L346.9,677.7 L348.5,677.8 L350.1,677.8 L351.4,677.8 L352.3,677.9" fill="none" stroke="#3a9ee0" stroke-width="0.7" stroke-opacity="0.65" stroke-linejoin="round"/>
<path d="M242.4,624.1 L243.0,623.9 L243.8,623.6 L244.8,623.2 L245.8,622.8 L246.9,622.6 L248.0,622.5 L249.1,622.8 L250.2,623.2 L251.4,623.7 L252.6,624.3 L253.8,624.9 L255.0,625.5 L256.1,626.0 L257.2,626.4 L258.3,626.9 L259.4,627.3 L260.7,627.9 L262.0,628.5 L263.5,629.2 L265.1,630.0 L266.8,630.9 L268.6,631.8 L270.3,632.7 L272.0,633.4 L273.7,634.2 L275.3,634.8 L277.0,635.5 L278.7,636.1 L280.3,636.7 L282.0,637.4 L283.7,638.0 L285.3,638.7 L287.0,639.4 L288.7,640.1 L290.3,640.7 L292.0,641.3 L293.7,642.0 L295.4,642.6 L297.1,643.2 L298.8,643.8 L300.4,644.3 L302.0,644.8 L303.5,645.2 L305.0,645.5 L306.4,645.8 L307.7,646.1 L309.0,646.2 L310.0,646.2 L310.9,646.2 L311.5,646.1 L312.1,646.0 L312.6,645.7 L313.0,645.3 L313.5,644.7 L314.0,644.1 L314.4,643.3 L314.8,642.5 L315.2,641.4 L315.6,640.0 L316.0,638.2 L316.4,635.9 L316.9,633.4 L317.3,630.5 L317.7,627.3 L318.1,623.8 L318.5,620.1 L318.9,616.1 L319.2,611.6 L319.5,607.0 L319.9,602.1 L320.2,597.1 L320.5,592.1 L320.8,586.9 L321.2,581.5 L321.5,576.0 L321.8,570.5 L322.2,565.1 L322.5,560.0 L322.8,555.0 L323.2,550.0 L323.5,545.1 L323.9,540.5 L324.2,536.4 L324.5,533.0 L324.8,530.2 L325.1,528.0 L325.3,526.2 L325.6,524.8 L325.8,524.0 L326.1,523.5 L326.3,523.4 L326.6,523.7 L326.8,524.4 L327.0,525.7 L327.3,527.5 L327.5,530.0 L327.7,533.3 L328.0,537.2 L328.2,541.8 L328.5,546.9 L328.7,552.3 L329.0,558.0 L329.3,564.3 L329.6,571.1 L330.0,578.4 L330.3,585.8 L330.7,593.1 L331.0,600.0 L331.3,606.8 L331.7,613.5 L332.0,620.2 L332.3,626.6 L332.7,632.6 L333.0,638.1 L333.3,643.0 L333.6,647.5 L333.9,651.7 L334.3,655.4 L334.6,658.9 L335.0,662.1 L335.4,664.9 L335.8,667.5 L336.2,669.7 L336.7,671.6 L337.3,673.2 L338.0,674.6 L338.8,675.7 L339.7,676.4 L340.7,676.9 L341.7,677.2 L342.8,677.4 L344.0,677.6 L345.3,677.9 L346.9,678.0 L348.5,678.1 L350.1,678.1 L351.4,678.1 L352.3,678.1" fill="none" stroke="#3a9ee0" stroke-width="0.7" stroke-opacity="0.65" stroke-linejoin="round"/>
<path d="M242.4,625.2 L243.0,625.0 L243.8,624.7 L244.8,624.3 L245.8,623.9 L246.9,623.7 L248.0,623.6 L249.1,623.9 L250.2,624.3 L251.4,624.8 L252.6,625.4 L253.8,626.0 L255.0,626.5 L256.1,627.0 L257.2,627.4 L258.3,627.9 L259.4,628.3 L260.7,628.9 L262.0,629.5 L263.5,630.2 L265.1,631.0 L266.8,631.9 L268.6,632.7 L270.3,633.6 L272.0,634.3 L273.7,635.0 L275.3,635.7 L277.0,636.3 L278.7,636.9 L280.3,637.5 L282.0,638.2 L283.7,638.8 L285.3,639.5 L287.0,640.1 L288.7,640.7 L290.3,641.4 L292.0,642.0 L293.7,642.6 L295.4,643.2 L297.1,643.8 L298.8,644.4 L300.4,644.9 L302.0,645.3 L303.5,645.7 L305.0,646.1 L306.4,646.3 L307.7,646.6 L309.0,646.7 L310.0,646.7 L310.9,646.7 L311.5,646.6 L312.1,646.5 L312.6,646.2 L313.0,645.8 L313.5,645.2 L314.0,644.5 L314.4,643.7 L314.8,642.9 L315.2,641.8 L315.6,640.3 L316.0,638.5 L316.4,636.2 L316.9,633.7 L317.3,630.8 L317.7,627.6 L318.1,624.1 L318.5,620.3 L318.9,616.3 L319.2,611.8 L319.5,607.1 L319.9,602.2 L320.2,597.2 L320.5,592.2 L320.8,587.0 L321.2,581.6 L321.5,576.1 L321.8,570.5 L322.2,565.2 L322.5,560.1 L322.8,555.1 L323.2,550.0 L323.5,545.2 L323.9,540.6 L324.2,536.5 L324.5,533.0 L324.8,530.3 L325.1,528.0 L325.3,526.2 L325.6,524.9 L325.8,524.0 L326.1,523.5 L326.3,523.4 L326.6,523.7 L326.8,524.4 L327.0,525.7 L327.3,527.5 L327.5,530.0 L327.7,533.3 L328.0,537.3 L328.2,541.8 L328.5,546.9 L328.7,552.4 L329.0,558.1 L329.3,564.3 L329.6,571.2 L330.0,578.5 L330.3,585.9 L330.7,593.2 L331.0,600.1 L331.3,606.9 L331.7,613.6 L332.0,620.3 L332.3,626.7 L332.7,632.7 L333.0,638.2 L333.3,643.1 L333.6,647.7 L333.9,651.8 L334.3,655.6 L334.6,659.1 L335.0,662.2 L335.4,665.1 L335.8,667.6 L336.2,669.9 L336.7,671.8 L337.3,673.4 L338.0,674.8 L338.8,675.9 L339.7,676.7 L340.7,677.1 L341.7,677.4 L342.8,677.7 L344.0,677.9 L345.3,678.2 L346.9,678.3 L348.5,678.4 L350.1,678.4 L351.4,678.4 L352.3,678.4" fill="none" stroke="#3a9ee0" stroke-width="0.7" stroke-opacity="0.65" stroke-linejoin="round"/>
<path d="M242.4,626.4 L243.0,626.1 L243.8,625.8 L244.8,625.4 L245.8,625.0 L246.9,624.8 L248.0,624.8 L249.1,625.0 L250.2,625.3 L251.4,625.8 L252.6,626.4 L253.8,627.0 L255.0,627.5 L256.1,627.9 L257.2,628.4 L258.3,628.9 L259.4,629.3 L260.7,629.9 L262.0,630.5 L263.5,631.2 L265.1,632.0 L266.8,632.8 L268.6,633.6 L270.3,634.5 L272.0,635.2 L273.7,635.9 L275.3,636.5 L277.0,637.1 L278.7,637.7 L280.3,638.3 L282.0,638.9 L283.7,639.6 L285.3,640.2 L287.0,640.8 L288.7,641.4 L290.3,642.1 L292.0,642.6 L293.7,643.2 L295.4,643.8 L297.1,644.4 L298.8,645.0 L300.4,645.5 L302.0,645.9 L303.5,646.2 L305.0,646.6 L306.4,646.9 L307.7,647.1 L309.0,647.2 L310.0,647.2 L310.9,647.2 L311.5,647.1 L312.1,646.9 L312.6,646.6 L313.0,646.2 L313.5,645.6 L314.0,644.9 L314.4,644.1 L314.8,643.3 L315.2,642.1 L315.6,640.7 L316.0,638.8 L316.4,636.6 L316.9,634.0 L317.3,631.0 L317.7,627.8 L318.1,624.3 L318.5,620.5 L318.9,616.5 L319.2,612.0 L319.5,607.3 L319.9,602.4 L320.2,597.3 L320.5,592.3 L320.8,587.1 L321.2,581.7 L321.5,576.1 L321.8,570.6 L322.2,565.2 L322.5,560.1 L322.8,555.1 L323.2,550.1 L323.5,545.2 L323.9,540.6 L324.2,536.5 L324.5,533.1 L324.8,530.3 L325.1,528.0 L325.3,526.2 L325.6,524.9 L325.8,524.0 L326.1,523.6 L326.3,523.5 L326.6,523.7 L326.8,524.5 L327.0,525.7 L327.3,527.6 L327.5,530.1 L327.7,533.4 L328.0,537.3 L328.2,541.9 L328.5,546.9 L328.7,552.4 L329.0,558.1 L329.3,564.4 L329.6,571.3 L330.0,578.6 L330.3,586.0 L330.7,593.3 L331.0,600.2 L331.3,607.0 L331.7,613.7 L332.0,620.4 L332.3,626.8 L332.7,632.8 L333.0,638.3 L333.3,643.2 L333.6,647.8 L333.9,651.9 L334.3,655.7 L334.6,659.2 L335.0,662.4 L335.4,665.3 L335.8,667.8 L336.2,670.0 L336.7,672.0 L337.3,673.6 L338.0,675.0 L338.8,676.2 L339.7,676.9 L340.7,677.4 L341.7,677.7 L342.8,677.9 L344.0,678.2 L345.3,678.4 L346.9,678.6 L348.5,678.6 L350.1,678.7 L351.4,678.7 L352.3,678.7" fill="none" stroke="#3a9ee0" stroke-width="0.7" stroke-opacity="0.65" stroke-linejoin="round"/>
<path d="M242.4,627.5 L243.0,627.2 L243.8,626.9 L244.8,626.5 L245.8,626.1 L246.9,625.9 L248.0,625.9 L249.1,626.0 L250.2,626.4 L251.4,626.9 L252.6,627.4 L253.8,628.0 L255.0,628.5 L256.1,628.9 L257.2,629.4 L258.3,629.8 L259.4,630.3 L260.7,630.9 L262.0,631.5 L263.5,632.2 L265.1,632.9 L266.8,633.7 L268.6,634.6 L270.3,635.4 L272.0,636.1 L273.7,636.7 L275.3,637.4 L277.0,638.0 L278.7,638.5 L280.3,639.1 L282.0,639.7 L283.7,640.3 L285.3,640.9 L287.0,641.5 L288.7,642.1 L290.3,642.7 L292.0,643.3 L293.7,643.9 L295.4,644.5 L297.1,645.0 L298.8,645.5 L300.4,646.0 L302.0,646.4 L303.5,646.8 L305.0,647.1 L306.4,647.4 L307.7,647.6 L309.0,647.7 L310.0,647.7 L310.9,647.7 L311.5,647.6 L312.1,647.4 L312.6,647.1 L313.0,646.7 L313.5,646.0 L314.0,645.3 L314.4,644.6 L314.8,643.6 L315.2,642.5 L315.6,641.0 L316.0,639.2 L316.4,636.9 L316.9,634.2 L317.3,631.3 L317.7,628.1 L318.1,624.5 L318.5,620.8 L318.9,616.7 L319.2,612.2 L319.5,607.4 L319.9,602.5 L320.2,597.5 L320.5,592.4 L320.8,587.2 L321.2,581.7 L321.5,576.2 L321.8,570.7 L322.2,565.3 L322.5,560.2 L322.8,555.2 L323.2,550.1 L323.5,545.2 L323.9,540.7 L324.2,536.6 L324.5,533.1 L324.8,530.3 L325.1,528.0 L325.3,526.2 L325.6,524.9 L325.8,524.0 L326.1,523.6 L326.3,523.5 L326.6,523.8 L326.8,524.5 L327.0,525.7 L327.3,527.6 L327.5,530.1 L327.7,533.4 L328.0,537.4 L328.2,541.9 L328.5,547.0 L328.7,552.5 L329.0,558.2 L329.3,564.4 L329.6,571.3 L330.0,578.6 L330.3,586.0 L330.7,593.4 L331.0,600.3 L331.3,607.0 L331.7,613.8 L332.0,620.5 L332.3,626.9 L332.7,632.9 L333.0,638.4 L333.3,643.4 L333.6,647.9 L333.9,652.1 L334.3,655.9 L334.6,659.4 L335.0,662.6 L335.4,665.5 L335.8,668.0 L336.2,670.2 L336.7,672.2 L337.3,673.8 L338.0,675.3 L338.8,676.4 L339.7,677.1 L340.7,677.6 L341.7,677.9 L342.8,678.2 L344.0,678.5 L345.3,678.7 L346.9,678.8 L348.5,678.9 L350.1,678.9 L351.4,678.9 L352.3,679.0" fill="none" stroke="#3a9ee0" stroke-width="0.7" stroke-opacity="0.65" stroke-linejoin="round"/>
<path d="M243,626 C250,622 255,612 262,618 S275,630 282,625 S295,622 300,628 S306,640 310,643" stroke="#80b8e0" stroke-width="0.4" fill="none"/>
<rect x="223" y="692" width="136" height="16" fill="#fdfdfd" stroke="#cfcfcf" stroke-width="0.7"/>
<rect x="226.0" y="695" width="3.6" height="3" fill="#c0392b"/>
<rect x="230.3" y="696" width="1.2" height="1.4" fill="#999"/>
<rect x="234.2" y="695" width="3.6" height="3" fill="#e8b010"/>
<rect x="238.5" y="696" width="1.2" height="1.4" fill="#999"/>
<rect x="242.4" y="695" width="3.6" height="3" fill="#7bd020"/>
<rect x="246.7" y="696" width="1.2" height="1.4" fill="#999"/>
<rect x="250.6" y="695" width="3.6" height="3" fill="#50d080"/>
<rect x="254.9" y="696" width="1.2" height="1.4" fill="#999"/>
<rect x="258.8" y="695" width="3.6" height="3" fill="#40a8e0"/>
<rect x="263.1" y="696" width="1.2" height="1.4" fill="#999"/>
<rect x="267.0" y="695" width="3.6" height="3" fill="#2020d0"/>
<rect x="271.3" y="696" width="1.2" height="1.4" fill="#999"/>
<rect x="275.2" y="695" width="3.6" height="3" fill="#9020d0"/>
<rect x="279.5" y="696" width="1.2" height="1.4" fill="#999"/>
<rect x="283.4" y="695" width="3.6" height="3" fill="#c02090"/>
<rect x="287.7" y="696" width="1.2" height="1.4" fill="#999"/>
<rect x="93.5" y="621.0" width="2.799999999999997" height="182.3" fill="#000"/>
<rect x="88.9" y="620.9" width="4.6" height="2.7" fill="#000"/>
<text x="87.3" y="626.7" font-family="Liberation Serif" font-weight="bold" font-size="13.0" text-anchor="end" textLength="25.8" lengthAdjust="spacing" fill="#111">1.50</text>
<rect x="88.9" y="650.9" width="4.6" height="2.7" fill="#000"/>
<text x="87.3" y="656.6" font-family="Liberation Serif" font-weight="bold" font-size="13.0" text-anchor="end" textLength="25.8" lengthAdjust="spacing" fill="#111">1.25</text>
<rect x="88.9" y="680.9" width="4.6" height="2.7" fill="#000"/>
<text x="87.3" y="686.6" font-family="Liberation Serif" font-weight="bold" font-size="13.0" text-anchor="end" textLength="25.8" lengthAdjust="spacing" fill="#111">1.00</text>
<rect x="88.9" y="710.8" width="4.6" height="2.7" fill="#000"/>
<text x="87.3" y="716.5" font-family="Liberation Serif" font-weight="bold" font-size="13.0" text-anchor="end" textLength="25.8" lengthAdjust="spacing" fill="#111">0.75</text>
<rect x="88.9" y="740.8" width="4.6" height="2.7" fill="#000"/>
<text x="87.3" y="746.5" font-family="Liberation Serif" font-weight="bold" font-size="13.0" text-anchor="end" textLength="25.8" lengthAdjust="spacing" fill="#111">0.50</text>
<rect x="88.9" y="770.7" width="4.6" height="2.7" fill="#000"/>
<text x="87.3" y="776.4" font-family="Liberation Serif" font-weight="bold" font-size="13.0" text-anchor="end" textLength="25.8" lengthAdjust="spacing" fill="#111">0.25</text>
<rect x="88.9" y="800.6" width="4.6" height="2.7" fill="#000"/>
<text x="87.3" y="806.4" font-family="Liberation Serif" font-weight="bold" font-size="13.0" text-anchor="end" textLength="25.8" lengthAdjust="spacing" fill="#111">0.00</text>
<rect x="100.4" y="680.4" width="32.6" height="120.6" rx="1.2" fill="#000"/>
<rect x="144.4" y="775.6" width="32.4" height="25.4" rx="1.2" fill="#000"/>
<rect x="148.8" y="781" width="21.8" height="19.0" fill="url(#dotsC)"/>
<rect x="151.7" y="773.0" width="17.8" height="4.1" rx="1.5" fill="#000"/>
<rect x="188.0" y="734.0" width="31.8" height="67.0" rx="1.2" fill="#000"/>
<rect x="191.2" y="737.2" width="25.4" height="63.8" fill="url(#hstripe)"/>
<rect x="195.2" y="729.4" width="17.5" height="6.1" rx="1.5" fill="#000"/>
<rect x="231.5" y="765.6" width="31.5" height="35.4" rx="1.2" fill="#000"/>
<rect x="234.7" y="768.8" width="25.1" height="32.2" fill="url(#vstripe)"/>
<rect x="238.6" y="763.0" width="17.3" height="4.1" rx="1.5" fill="#000"/>
<rect x="275.0" y="758.6" width="32.3" height="42.4" rx="1.2" fill="#000"/>
<rect x="278.2" y="761.8" width="25.9" height="39.2" fill="url(#hatchF)"/>
<rect x="282.3" y="755.0" width="17.8" height="5.1" rx="1.5" fill="#000"/>
<rect x="319.0" y="747.5" width="32.0" height="53.5" rx="1.2" fill="#000"/>
<rect x="322.2" y="750.7" width="25.6" height="50.3" fill="url(#hatchB)"/>
<rect x="326.2" y="744.7" width="17.6" height="4.3" rx="1.5" fill="#000"/>
<rect x="93.5" y="800.8" width="264" height="2.7" fill="#000"/>
<rect x="115.3" y="802" width="2.6" height="5.8" fill="#000"/>
<rect x="159.1" y="802" width="2.6" height="5.8" fill="#000"/>
<rect x="202.2" y="802" width="2.6" height="5.8" fill="#000"/>
<rect x="245.7" y="802" width="2.6" height="5.8" fill="#000"/>
<rect x="289.7" y="802" width="2.6" height="5.8" fill="#000"/>
<rect x="333.7" y="802" width="2.6" height="5.8" fill="#000"/>
<line x1="155.20" y1="758.70" x2="155.20" y2="763.50" stroke="#6e6e6e" stroke-width="1.25" stroke-linecap="round"/>
<line x1="153.12" y1="759.90" x2="157.28" y2="762.30" stroke="#6e6e6e" stroke-width="1.25" stroke-linecap="round"/>
<line x1="157.28" y1="759.90" x2="153.12" y2="762.30" stroke="#6e6e6e" stroke-width="1.25" stroke-linecap="round"/>
<circle cx="155.20" cy="761.10" r="1.1" fill="#6e6e6e"/>
<line x1="162.40" y1="758.70" x2="162.40" y2="763.50" stroke="#6e6e6e" stroke-width="1.25" stroke-linecap="round"/>
<line x1="160.32" y1="759.90" x2="164.48" y2="762.30" stroke="#6e6e6e" stroke-width="1.25" stroke-linecap="round"/>
<line x1="164.48" y1="759.90" x2="160.32" y2="762.30" stroke="#6e6e6e" stroke-width="1.25" stroke-linecap="round"/>
<circle cx="162.40" cy="761.10" r="1.1" fill="#6e6e6e"/>
<line x1="169.80" y1="758.70" x2="169.80" y2="763.50" stroke="#6e6e6e" stroke-width="1.25" stroke-linecap="round"/>
<line x1="167.72" y1="759.90" x2="171.88" y2="762.30" stroke="#6e6e6e" stroke-width="1.25" stroke-linecap="round"/>
<line x1="171.88" y1="759.90" x2="167.72" y2="762.30" stroke="#6e6e6e" stroke-width="1.25" stroke-linecap="round"/>
<circle cx="169.80" cy="761.10" r="1.1" fill="#6e6e6e"/>
<text x="202.4" y="705.0" font-family="Liberation Serif" font-size="14" text-anchor="middle" fill="#4a4a4a" textLength="14.5" lengthAdjust="spacing">##</text>
<line x1="203.90" y1="714.20" x2="203.90" y2="719.00" stroke="#6e6e6e" stroke-width="1.25" stroke-linecap="round"/>
<line x1="201.82" y1="715.40" x2="205.98" y2="717.80" stroke="#6e6e6e" stroke-width="1.25" stroke-linecap="round"/>
<line x1="205.98" y1="715.40" x2="201.82" y2="717.80" stroke="#6e6e6e" stroke-width="1.25" stroke-linecap="round"/>
<circle cx="203.90" cy="716.60" r="1.1" fill="#6e6e6e"/>
<line x1="242.10" y1="749.60" x2="242.10" y2="754.40" stroke="#6e6e6e" stroke-width="1.25" stroke-linecap="round"/>
<line x1="240.02" y1="750.80" x2="244.18" y2="753.20" stroke="#6e6e6e" stroke-width="1.25" stroke-linecap="round"/>
<line x1="244.18" y1="750.80" x2="240.02" y2="753.20" stroke="#6e6e6e" stroke-width="1.25" stroke-linecap="round"/>
<circle cx="242.10" cy="752.00" r="1.1" fill="#6e6e6e"/>
<line x1="250.70" y1="749.60" x2="250.70" y2="754.40" stroke="#6e6e6e" stroke-width="1.25" stroke-linecap="round"/>
<line x1="248.62" y1="750.80" x2="252.78" y2="753.20" stroke="#6e6e6e" stroke-width="1.25" stroke-linecap="round"/>
<line x1="252.78" y1="750.80" x2="248.62" y2="753.20" stroke="#6e6e6e" stroke-width="1.25" stroke-linecap="round"/>
<circle cx="250.70" cy="752.00" r="1.1" fill="#6e6e6e"/>
<text x="288.5" y="733.0" font-family="Liberation Serif" font-size="14" text-anchor="middle" fill="#4a4a4a">#</text>
<line x1="290.80" y1="741.60" x2="290.80" y2="746.40" stroke="#6e6e6e" stroke-width="1.25" stroke-linecap="round"/>
<line x1="288.72" y1="742.80" x2="292.88" y2="745.20" stroke="#6e6e6e" stroke-width="1.25" stroke-linecap="round"/>
<line x1="292.88" y1="742.80" x2="288.72" y2="745.20" stroke="#6e6e6e" stroke-width="1.25" stroke-linecap="round"/>
<circle cx="290.80" cy="744.00" r="1.1" fill="#6e6e6e"/>
<text x="333.0" y="724.0" font-family="Liberation Serif" font-size="14" text-anchor="middle" fill="#4a4a4a">#</text>
<line x1="333.40" y1="729.30" x2="333.40" y2="734.30" stroke="#6e6e6e" stroke-width="1.25" stroke-linecap="round"/>
<line x1="331.23" y1="730.55" x2="335.57" y2="733.05" stroke="#6e6e6e" stroke-width="1.25" stroke-linecap="round"/>
<line x1="335.57" y1="730.55" x2="331.23" y2="733.05" stroke="#6e6e6e" stroke-width="1.25" stroke-linecap="round"/>
<circle cx="333.40" cy="731.80" r="1.1" fill="#6e6e6e"/>
<text transform="translate(118.6,820.8) rotate(-45)" x="0" y="0" font-family="Liberation Serif" font-weight="bold" font-size="14.6" text-anchor="end" textLength="49.5" lengthAdjust="spacingAndGlyphs" fill="#111">Control</text>
<text transform="translate(163.0,820.8) rotate(-45)" x="0" y="0" font-family="Liberation Serif" font-weight="bold" font-size="14.6" text-anchor="end" textLength="136.5" lengthAdjust="spacingAndGlyphs" fill="#111">Scopolamine(2mg/kg)</text>
<text transform="translate(206.1,820.8) rotate(-45)" x="0" y="0" font-family="Liberation Serif" font-weight="bold" font-size="14.6" text-anchor="end" textLength="113" lengthAdjust="spacingAndGlyphs" fill="#111">Donepezil(2.5/mg)</text>
<text transform="translate(249.2,820.8) rotate(-45)" x="0" y="0" font-family="Liberation Serif" font-weight="bold" font-size="14.6" text-anchor="end" textLength="96.5" lengthAdjust="spacingAndGlyphs" fill="#111">AKBA(5mg/kg)</text>
<text transform="translate(293.7,820.8) rotate(-45)" x="0" y="0" font-family="Liberation Serif" font-weight="bold" font-size="14.6" text-anchor="end" textLength="104.5" lengthAdjust="spacingAndGlyphs" fill="#111">AKBA(10mg/kg)</text>
<text transform="translate(337.2,820.8) rotate(-45)" x="0" y="0" font-family="Liberation Serif" font-weight="bold" font-size="14.6" text-anchor="end" textLength="105" lengthAdjust="spacingAndGlyphs" fill="#111">AKBA(15mg/kg)</text>
<text transform="translate(17.6,711.0) rotate(-90)" x="0" y="0" font-family="Liberation Serif" font-weight="bold" font-size="14.8" text-anchor="middle" textLength="168" lengthAdjust="spacingAndGlyphs" fill="#111">Relative Gene expression</text>
<text transform="translate(34.4,711.0) rotate(-90)" x="0" y="0" font-family="Liberation Serif" font-weight="bold" font-size="14.2" text-anchor="middle" textLength="65.5" lengthAdjust="spacingAndGlyphs" fill="#111">of MMP-9</text>
<rect x="75.1" y="580.4" width="18.3" height="26.8" fill="#fff" stroke="#000" stroke-width="3" rx="1"/><text x="84.2" y="599.1" font-family="Liberation Serif" font-size="16" text-anchor="middle" fill="#000">C</text>
<rect x="429.5" y="555.5" width="352" height="378.5" fill="#fff" stroke="#b4b4b4" stroke-width="1"/>
<rect x="453.7" y="564.7" width="20.3" height="35.1" fill="#fff" stroke="#9a9a9a" stroke-width="1"/>
<text x="466.2" y="596.8" font-family="Liberation Serif" font-weight="bold" font-size="27.8" text-anchor="middle" textLength="10.6" lengthAdjust="spacingAndGlyphs" fill="#0a0a0a">D</text>
<rect x="468.4" y="612.4" width="2.4" height="250.1" fill="#bdbdbd" stroke="#1e1e1e" stroke-width="1"/>
<rect x="468.4" y="858.6" width="275.5" height="4" fill="#bdbdbd" stroke="#1e1e1e" stroke-width="1"/>
<rect x="465.3" y="858.8" width="3.1" height="3.4" fill="#fff" stroke="#333" stroke-width="0.8"/>
<rect x="467.7" y="862.6" width="3" height="5" fill="#fff" stroke="#333" stroke-width="0.8"/>
<rect x="465.3" y="817.7" width="3.1" height="3.4" fill="#fff" stroke="#333" stroke-width="0.8"/>
<rect x="513.2" y="862.6" width="3" height="5" fill="#fff" stroke="#333" stroke-width="0.8"/>
<rect x="465.3" y="776.6" width="3.1" height="3.4" fill="#fff" stroke="#333" stroke-width="0.8"/>
<rect x="558.8" y="862.6" width="3" height="5" fill="#fff" stroke="#333" stroke-width="0.8"/>
<rect x="465.3" y="735.5" width="3.1" height="3.4" fill="#fff" stroke="#333" stroke-width="0.8"/>
<rect x="604.3" y="862.6" width="3" height="5" fill="#fff" stroke="#333" stroke-width="0.8"/>
<rect x="465.3" y="694.4" width="3.1" height="3.4" fill="#fff" stroke="#333" stroke-width="0.8"/>
<rect x="649.9" y="862.6" width="3" height="5" fill="#fff" stroke="#333" stroke-width="0.8"/>
<rect x="465.3" y="653.3" width="3.1" height="3.4" fill="#fff" stroke="#333" stroke-width="0.8"/>
<rect x="695.4" y="862.6" width="3" height="5" fill="#fff" stroke="#333" stroke-width="0.8"/>
<rect x="465.3" y="612.2" width="3.1" height="3.4" fill="#fff" stroke="#333" stroke-width="0.8"/>
<rect x="740.9" y="862.6" width="3" height="5" fill="#fff" stroke="#333" stroke-width="0.8"/>
<text x="459.2" y="866.8" font-family="Liberation Serif" font-size="19" text-anchor="end" textLength="5.6" lengthAdjust="spacingAndGlyphs" fill="#2a2a2a" stroke="#2a2a2a" stroke-width="0.45">0</text>
<text x="469.5" y="891.8" font-family="Liberation Serif" font-size="19" text-anchor="middle" textLength="5.6" lengthAdjust="spacingAndGlyphs" fill="#2a2a2a" stroke="#2a2a2a" stroke-width="0.45">0</text>
<text x="459.2" y="825.7" font-family="Liberation Serif" font-size="19" text-anchor="end" textLength="14.2" lengthAdjust="spacingAndGlyphs" fill="#2a2a2a" stroke="#2a2a2a" stroke-width="0.45">0.2</text>
<text x="515.0" y="891.8" font-family="Liberation Serif" font-size="19" text-anchor="middle" textLength="14.2" lengthAdjust="spacingAndGlyphs" fill="#2a2a2a" stroke="#2a2a2a" stroke-width="0.45">0.2</text>
<text x="459.2" y="784.6" font-family="Liberation Serif" font-size="19" text-anchor="end" textLength="14.2" lengthAdjust="spacingAndGlyphs" fill="#2a2a2a" stroke="#2a2a2a" stroke-width="0.45">0.4</text>
<text x="560.6" y="891.8" font-family="Liberation Serif" font-size="19" text-anchor="middle" textLength="14.2" lengthAdjust="spacingAndGlyphs" fill="#2a2a2a" stroke="#2a2a2a" stroke-width="0.45">0.4</text>
<text x="459.2" y="743.5" font-family="Liberation Serif" font-size="19" text-anchor="end" textLength="14.2" lengthAdjust="spacingAndGlyphs" fill="#2a2a2a" stroke="#2a2a2a" stroke-width="0.45">0.6</text>
<text x="606.1" y="891.8" font-family="Liberation Serif" font-size="19" text-anchor="middle" textLength="14.2" lengthAdjust="spacingAndGlyphs" fill="#2a2a2a" stroke="#2a2a2a" stroke-width="0.45">0.6</text>
<text x="459.2" y="702.4" font-family="Liberation Serif" font-size="19" text-anchor="end" textLength="14.2" lengthAdjust="spacingAndGlyphs" fill="#2a2a2a" stroke="#2a2a2a" stroke-width="0.45">0.8</text>
<text x="651.7" y="891.8" font-family="Liberation Serif" font-size="19" text-anchor="middle" textLength="14.2" lengthAdjust="spacingAndGlyphs" fill="#2a2a2a" stroke="#2a2a2a" stroke-width="0.45">0.8</text>
<text x="459.2" y="661.3" font-family="Liberation Serif" font-size="19" text-anchor="end" textLength="5.6" lengthAdjust="spacingAndGlyphs" fill="#2a2a2a" stroke="#2a2a2a" stroke-width="0.45">1</text>
<text x="697.2" y="891.8" font-family="Liberation Serif" font-size="19" text-anchor="middle" textLength="5.6" lengthAdjust="spacingAndGlyphs" fill="#2a2a2a" stroke="#2a2a2a" stroke-width="0.45">1</text>
<text x="459.2" y="620.2" font-family="Liberation Serif" font-size="19" text-anchor="end" textLength="14.2" lengthAdjust="spacingAndGlyphs" fill="#2a2a2a" stroke="#2a2a2a" stroke-width="0.45">1.2</text>
<text x="742.7" y="891.8" font-family="Liberation Serif" font-size="19" text-anchor="middle" textLength="14.2" lengthAdjust="spacingAndGlyphs" fill="#2a2a2a" stroke="#2a2a2a" stroke-width="0.45">1.2</text>
<text x="515.6" y="920.8" font-family="Liberation Serif" font-weight="bold" font-size="20" textLength="181" lengthAdjust="spacingAndGlyphs" fill="#383838">Relative Gene expression of&#160;&#160;PPARy</text>
<text transform="translate(442.7,737.0) rotate(-90)" x="0" y="0" font-family="Liberation Serif" font-weight="bold" font-size="13.5" text-anchor="middle" textLength="46.7" lengthAdjust="spacingAndGlyphs" fill="#4a4a4a">Units</text>
<line x1="560.3" y1="636.7" x2="696.9" y2="804.0" stroke="#7a6560" stroke-width="1.0" stroke-dasharray="1.2 1.4"/>
<line x1="560.3" y1="754.7" x2="696.9" y2="648.4" stroke="#d2581e" stroke-width="1.7" stroke-dasharray="1.6 1.3"/>
<line x1="560.3" y1="837.3" x2="696.9" y2="671.0" stroke="#4a78c8" stroke-width="1.1" stroke-dasharray="1.3 1.5"/>
<ellipse cx="560.3" cy="819.4" rx="2.8" ry="4.4" fill="#4f78cf"/>
<ellipse cx="589.9" cy="798.9" rx="2.8" ry="4.4" fill="#4f78cf"/>
<ellipse cx="612.7" cy="788.6" rx="2.8" ry="4.4" fill="#4f78cf"/>
<ellipse cx="628.6" cy="768.0" rx="2.8" ry="4.4" fill="#4f78cf"/>
<ellipse cx="642.3" cy="747.5" rx="2.8" ry="4.4" fill="#4f78cf"/>
<ellipse cx="696.9" cy="655.0" rx="2.8" ry="4.4" fill="#4f78cf"/>
<ellipse cx="560.3" cy="626.2" rx="2.8" ry="4.4" fill="#9b9b9b"/>
<ellipse cx="589.9" cy="665.3" rx="2.8" ry="4.4" fill="#9b9b9b"/>
<ellipse cx="612.7" cy="714.6" rx="2.8" ry="4.4" fill="#9b9b9b"/>
<ellipse cx="628.6" cy="735.1" rx="2.8" ry="4.4" fill="#9b9b9b"/>
<ellipse cx="642.3" cy="743.4" rx="2.8" ry="4.4" fill="#9b9b9b"/>
<ellipse cx="696.9" cy="790.6" rx="2.8" ry="4.4" fill="#9b9b9b"/>
<ellipse cx="560.3" cy="757.8" rx="2.8" ry="4.4" fill="#c8742e"/>
<ellipse cx="589.9" cy="737.2" rx="2.8" ry="4.4" fill="#c8742e"/>
<ellipse cx="612.7" cy="706.4" rx="2.8" ry="4.4" fill="#c8742e"/>
<ellipse cx="628.6" cy="692.0" rx="2.8" ry="4.4" fill="#c8742e"/>
<ellipse cx="642.3" cy="683.8" rx="2.8" ry="4.4" fill="#c8742e"/>
<ellipse cx="696.9" cy="655.0" rx="2.8" ry="4.4" fill="#c8742e"/>
<text x="506.1" y="644.8" font-family="Liberation Serif" font-size="17.5" textLength="48.7" lengthAdjust="spacingAndGlyphs" fill="#2e2e2e" stroke="#2e2e2e" stroke-width="0.25">R<tspan font-size="9" dy="-6.5">2</tspan><tspan dy="6.5"> = 0.9545</tspan></text>
<text x="506.1" y="740.6" font-family="Liberation Serif" font-size="17.5" textLength="48.7" lengthAdjust="spacingAndGlyphs" fill="#2e2e2e" stroke="#2e2e2e" stroke-width="0.25">R<tspan font-size="9" dy="-6.5">2</tspan><tspan dy="6.5"> = 0.9635</tspan></text>
<text x="521.4" y="806.8" font-family="Liberation Serif" font-size="17.5" textLength="48.7" lengthAdjust="spacingAndGlyphs" fill="#2e2e2e" stroke="#2e2e2e" stroke-width="0.25">R<tspan font-size="9" dy="-6.5">2</tspan><tspan dy="6.5"> = 0.9345</tspan></text>
<ellipse cx="718.1" cy="656.8" rx="2.6" ry="4" fill="#4f78cf"/>
<text x="723.4" y="662.3" font-family="Liberation Serif" font-size="16.5" textLength="28.7" lengthAdjust="spacingAndGlyphs" fill="#2e2e2e" stroke="#2e2e2e" stroke-width="0.3">MMP9</text>
<ellipse cx="718.1" cy="695.0" rx="2.6" ry="4" fill="#c8742e"/>
<text x="723.4" y="700.5" font-family="Liberation Serif" font-size="16.5" textLength="28.7" lengthAdjust="spacingAndGlyphs" fill="#2e2e2e" stroke="#2e2e2e" stroke-width="0.3">MMP2</text>
<ellipse cx="718.1" cy="733.4" rx="2.6" ry="4" fill="#9b9b9b"/>
<text x="723.4" y="738.9" font-family="Liberation Serif" font-size="16.5" textLength="23.2" lengthAdjust="spacingAndGlyphs" fill="#2e2e2e" stroke="#2e2e2e" stroke-width="0.3">AchE</text>
</svg>
</body></html>
